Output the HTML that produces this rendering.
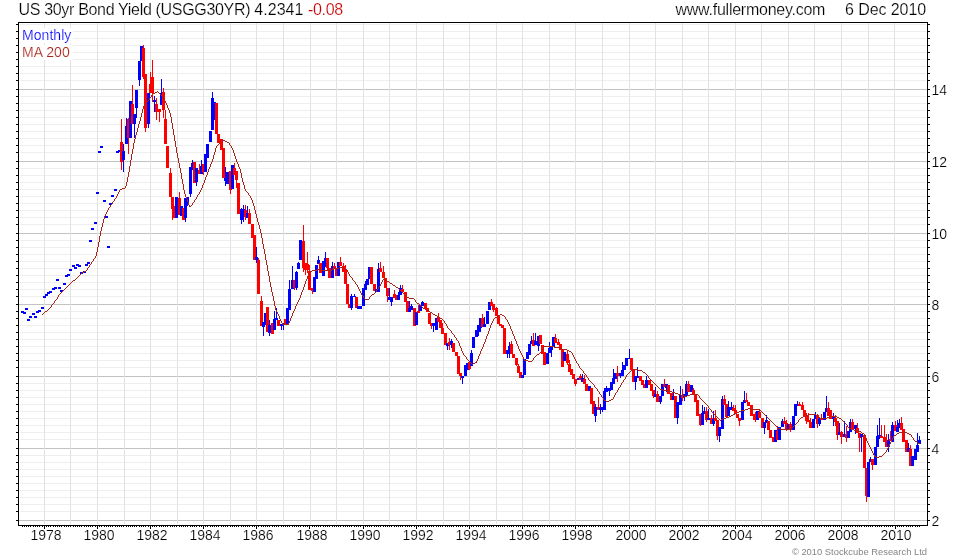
<!DOCTYPE html>
<html><head><meta charset="utf-8"><title>US 30yr Bond Yield</title>
<style>
html,body{margin:0;padding:0;background:#fff}
#c div{-webkit-text-stroke:0.2px #fff}
#c div.cp{-webkit-text-stroke:0px transparent}
#c{position:relative;width:980px;height:560px;overflow:hidden;background:#fff;font-family:"Liberation Sans",Arial,sans-serif;color:#000}
.t{position:absolute;top:-0.5px;font-size:16px;line-height:20px;white-space:nowrap}
.yl{position:absolute;left:931.5px;font-size:14px;line-height:16px;width:30px}
.xl{position:absolute;top:527px;font-size:14px;line-height:16px;width:41px;text-align:center}
.lg{position:absolute;left:19px;width:51px;height:15px;font-size:14px;line-height:15px;background:#fff;padding:0 0 0 3px;white-space:nowrap;overflow:hidden;letter-spacing:0.05px}
.cp{position:absolute;top:545.5px;right:53px;font-size:9.4px;line-height:12px;color:#858585;white-space:nowrap;-webkit-text-stroke:0 !important}
</style></head><body>
<div id="c">
<svg width="980" height="560" viewBox="0 0 980 560" shape-rendering="crispEdges" style="position:absolute;left:0;top:0">
<g fill="#eeeeee">
<rect x="20" y="24" width="906" height="1"/>
<rect x="20" y="31" width="906" height="1"/>
<rect x="20" y="38" width="906" height="1"/>
<rect x="20" y="45" width="906" height="1"/>
<rect x="20" y="52" width="906" height="1"/>
<rect x="20" y="59" width="906" height="1"/>
<rect x="20" y="66" width="906" height="1"/>
<rect x="20" y="73" width="906" height="1"/>
<rect x="20" y="80" width="906" height="1"/>
<rect x="20" y="96" width="906" height="1"/>
<rect x="20" y="103" width="906" height="1"/>
<rect x="20" y="110" width="906" height="1"/>
<rect x="20" y="117" width="906" height="1"/>
<rect x="20" y="124" width="906" height="1"/>
<rect x="20" y="131" width="906" height="1"/>
<rect x="20" y="138" width="906" height="1"/>
<rect x="20" y="145" width="906" height="1"/>
<rect x="20" y="152" width="906" height="1"/>
<rect x="20" y="168" width="906" height="1"/>
<rect x="20" y="175" width="906" height="1"/>
<rect x="20" y="182" width="906" height="1"/>
<rect x="20" y="189" width="906" height="1"/>
<rect x="20" y="196" width="906" height="1"/>
<rect x="20" y="203" width="906" height="1"/>
<rect x="20" y="210" width="906" height="1"/>
<rect x="20" y="217" width="906" height="1"/>
<rect x="20" y="224" width="906" height="1"/>
<rect x="20" y="240" width="906" height="1"/>
<rect x="20" y="247" width="906" height="1"/>
<rect x="20" y="254" width="906" height="1"/>
<rect x="20" y="261" width="906" height="1"/>
<rect x="20" y="268" width="906" height="1"/>
<rect x="20" y="275" width="906" height="1"/>
<rect x="20" y="282" width="906" height="1"/>
<rect x="20" y="289" width="906" height="1"/>
<rect x="20" y="296" width="906" height="1"/>
<rect x="20" y="311" width="906" height="1"/>
<rect x="20" y="318" width="906" height="1"/>
<rect x="20" y="325" width="906" height="1"/>
<rect x="20" y="332" width="906" height="1"/>
<rect x="20" y="339" width="906" height="1"/>
<rect x="20" y="346" width="906" height="1"/>
<rect x="20" y="353" width="906" height="1"/>
<rect x="20" y="360" width="906" height="1"/>
<rect x="20" y="367" width="906" height="1"/>
<rect x="20" y="383" width="906" height="1"/>
<rect x="20" y="390" width="906" height="1"/>
<rect x="20" y="397" width="906" height="1"/>
<rect x="20" y="404" width="906" height="1"/>
<rect x="20" y="411" width="906" height="1"/>
<rect x="20" y="418" width="906" height="1"/>
<rect x="20" y="425" width="906" height="1"/>
<rect x="20" y="432" width="906" height="1"/>
<rect x="20" y="439" width="906" height="1"/>
<rect x="20" y="455" width="906" height="1"/>
<rect x="20" y="462" width="906" height="1"/>
<rect x="20" y="469" width="906" height="1"/>
<rect x="20" y="476" width="906" height="1"/>
<rect x="20" y="483" width="906" height="1"/>
<rect x="20" y="490" width="906" height="1"/>
<rect x="20" y="497" width="906" height="1"/>
<rect x="20" y="504" width="906" height="1"/>
<rect x="20" y="511" width="906" height="1"/>
</g>
<g fill="#c2c2c2">
<rect x="19" y="89" width="908" height="1"/>
<rect x="19" y="161" width="908" height="1"/>
<rect x="19" y="233" width="908" height="1"/>
<rect x="19" y="304" width="908" height="1"/>
<rect x="19" y="376" width="908" height="1"/>
<rect x="19" y="448" width="908" height="1"/>
<rect x="19" y="520" width="908" height="1"/>
</g>
<g fill="#e2e2e2">
<rect x="44" y="23" width="1" height="501"/>
<rect x="70" y="23" width="1" height="501"/>
<rect x="97" y="23" width="1" height="501"/>
<rect x="124" y="23" width="1" height="501"/>
<rect x="150" y="23" width="1" height="501"/>
<rect x="177" y="23" width="1" height="501"/>
<rect x="203" y="23" width="1" height="501"/>
<rect x="230" y="23" width="1" height="501"/>
<rect x="256" y="23" width="1" height="501"/>
<rect x="283" y="23" width="1" height="501"/>
<rect x="310" y="23" width="1" height="501"/>
<rect x="336" y="23" width="1" height="501"/>
<rect x="363" y="23" width="1" height="501"/>
<rect x="389" y="23" width="1" height="501"/>
<rect x="416" y="23" width="1" height="501"/>
<rect x="443" y="23" width="1" height="501"/>
<rect x="469" y="23" width="1" height="501"/>
<rect x="496" y="23" width="1" height="501"/>
<rect x="522" y="23" width="1" height="501"/>
<rect x="549" y="23" width="1" height="501"/>
<rect x="575" y="23" width="1" height="501"/>
<rect x="602" y="23" width="1" height="501"/>
<rect x="629" y="23" width="1" height="501"/>
<rect x="655" y="23" width="1" height="501"/>
<rect x="682" y="23" width="1" height="501"/>
<rect x="708" y="23" width="1" height="501"/>
<rect x="735" y="23" width="1" height="501"/>
<rect x="761" y="23" width="1" height="501"/>
<rect x="788" y="23" width="1" height="501"/>
<rect x="814" y="23" width="1" height="501"/>
<rect x="841" y="23" width="1" height="501"/>
<rect x="868" y="23" width="1" height="501"/>
<rect x="894" y="23" width="1" height="501"/>
</g>
<g>
<rect x="21" y="311" width="3" height="2" fill="#0000ff"/>
<rect x="23" y="312" width="3" height="2" fill="#0000ff"/>
<rect x="25" y="308" width="3" height="2" fill="#0000ff"/>
<rect x="27" y="319" width="3" height="2" fill="#0000ff"/>
<rect x="29" y="316" width="3" height="2" fill="#0000ff"/>
<rect x="32" y="313" width="3" height="2" fill="#0000ff"/>
<rect x="34" y="316" width="3" height="2" fill="#0000ff"/>
<rect x="36" y="311" width="3" height="2" fill="#0000ff"/>
<rect x="38" y="310" width="3" height="2" fill="#0000ff"/>
<rect x="41" y="307" width="3" height="2" fill="#0000ff"/>
<rect x="43" y="296" width="3" height="2" fill="#0000ff"/>
<rect x="45" y="294" width="3" height="2" fill="#0000ff"/>
<rect x="47" y="292" width="3" height="2" fill="#0000ff"/>
<rect x="49" y="291" width="3" height="2" fill="#0000ff"/>
<rect x="52" y="288" width="3" height="2" fill="#0000ff"/>
<rect x="54" y="287" width="3" height="2" fill="#0000ff"/>
<rect x="56" y="279" width="3" height="2" fill="#0000ff"/>
<rect x="58" y="287" width="3" height="2" fill="#0000ff"/>
<rect x="60" y="290" width="3" height="2" fill="#0000ff"/>
<rect x="63" y="283" width="3" height="2" fill="#0000ff"/>
<rect x="65" y="275" width="3" height="2" fill="#0000ff"/>
<rect x="67" y="274" width="3" height="2" fill="#0000ff"/>
<rect x="69" y="269" width="3" height="2" fill="#0000ff"/>
<rect x="72" y="265" width="3" height="2" fill="#0000ff"/>
<rect x="74" y="267" width="3" height="2" fill="#0000ff"/>
<rect x="76" y="264" width="3" height="2" fill="#0000ff"/>
<rect x="78" y="265" width="3" height="2" fill="#0000ff"/>
<rect x="80" y="272" width="3" height="2" fill="#0000ff"/>
<rect x="83" y="271" width="3" height="2" fill="#0000ff"/>
<rect x="85" y="264" width="3" height="2" fill="#0000ff"/>
<rect x="87" y="262" width="3" height="2" fill="#0000ff"/>
<rect x="89" y="240" width="3" height="2" fill="#0000ff"/>
<rect x="91" y="228" width="3" height="2" fill="#0000ff"/>
<rect x="94" y="222" width="3" height="2" fill="#0000ff"/>
<rect x="96" y="192" width="3" height="2" fill="#0000ff"/>
<rect x="98" y="151" width="3" height="2" fill="#0000ff"/>
<rect x="100" y="146" width="3" height="2" fill="#0000ff"/>
<rect x="103" y="200" width="3" height="2" fill="#0000ff"/>
<rect x="105" y="216" width="3" height="2" fill="#0000ff"/>
<rect x="107" y="246" width="3" height="2" fill="#0000ff"/>
<rect x="109" y="203" width="3" height="2" fill="#0000ff"/>
<rect x="111" y="195" width="3" height="2" fill="#0000ff"/>
<rect x="114" y="189" width="3" height="2" fill="#0000ff"/>
<rect x="116" y="151" width="3" height="2" fill="#0000ff"/>
<rect x="118" y="150" width="3" height="2" fill="#0000ff"/>
<rect x="121" y="119" width="1" height="51" fill="#ff0000"/><rect x="120" y="142" width="3" height="20" fill="#ff0000"/>
<rect x="123" y="144" width="1" height="28" fill="#0000ff"/><rect x="122" y="151" width="3" height="9" fill="#0000ff"/>
<rect x="126" y="118" width="1" height="26" fill="#0000ff"/><rect x="125" y="126" width="3" height="18" fill="#0000ff"/>
<rect x="128" y="118" width="1" height="36" fill="#ff0000"/><rect x="127" y="119" width="3" height="19" fill="#ff0000"/>
<rect x="130" y="101" width="1" height="37" fill="#0000ff"/><rect x="129" y="101" width="3" height="37" fill="#0000ff"/>
<rect x="132" y="85" width="1" height="39" fill="#ff0000"/><rect x="131" y="104" width="3" height="20" fill="#ff0000"/>
<rect x="134" y="114" width="1" height="24" fill="#0000ff"/><rect x="133" y="114" width="3" height="10" fill="#0000ff"/>
<rect x="136" y="90" width="1" height="28" fill="#0000ff"/><rect x="135" y="90" width="3" height="18" fill="#0000ff"/>
<rect x="139" y="61" width="1" height="25" fill="#0000ff"/><rect x="138" y="61" width="3" height="19" fill="#0000ff"/>
<rect x="141" y="46" width="1" height="15" fill="#0000ff"/><rect x="140" y="46" width="3" height="15" fill="#0000ff"/>
<rect x="143" y="45" width="1" height="34" fill="#ff0000"/><rect x="142" y="48" width="3" height="29" fill="#ff0000"/>
<rect x="145" y="74" width="1" height="58" fill="#ff0000"/><rect x="144" y="74" width="3" height="54" fill="#ff0000"/>
<rect x="148" y="93" width="1" height="35" fill="#0000ff"/><rect x="147" y="93" width="3" height="31" fill="#0000ff"/>
<rect x="150" y="72" width="1" height="21" fill="#ff0000"/><rect x="149" y="84" width="3" height="9" fill="#ff0000"/>
<rect x="152" y="60" width="1" height="42" fill="#ff0000"/><rect x="151" y="77" width="3" height="16" fill="#ff0000"/>
<rect x="154" y="96" width="1" height="16" fill="#0000ff"/><rect x="153" y="100" width="3" height="2" fill="#0000ff"/>
<rect x="156" y="98" width="1" height="22" fill="#ff0000"/><rect x="155" y="104" width="3" height="8" fill="#ff0000"/>
<rect x="159" y="109" width="1" height="13" fill="#ff0000"/><rect x="158" y="109" width="3" height="3" fill="#ff0000"/>
<rect x="161" y="79" width="1" height="26" fill="#0000ff"/><rect x="160" y="93" width="3" height="12" fill="#0000ff"/>
<rect x="163" y="88" width="1" height="30" fill="#ff0000"/><rect x="162" y="92" width="3" height="18" fill="#ff0000"/>
<rect x="165" y="110" width="1" height="34" fill="#ff0000"/><rect x="164" y="119" width="3" height="25" fill="#ff0000"/>
<rect x="167" y="146" width="1" height="22" fill="#ff0000"/><rect x="166" y="146" width="3" height="22" fill="#ff0000"/>
<rect x="170" y="168" width="1" height="29" fill="#ff0000"/><rect x="169" y="173" width="3" height="24" fill="#ff0000"/>
<rect x="172" y="197" width="1" height="23" fill="#ff0000"/><rect x="171" y="197" width="3" height="12" fill="#ff0000"/>
<rect x="174" y="206" width="1" height="12" fill="#ff0000"/><rect x="173" y="206" width="3" height="12" fill="#ff0000"/>
<rect x="176" y="197" width="1" height="21" fill="#0000ff"/><rect x="175" y="197" width="3" height="21" fill="#0000ff"/>
<rect x="179" y="192" width="1" height="23" fill="#ff0000"/><rect x="178" y="198" width="3" height="17" fill="#ff0000"/>
<rect x="181" y="206" width="1" height="10" fill="#0000ff"/><rect x="180" y="206" width="3" height="10" fill="#0000ff"/>
<rect x="183" y="208" width="1" height="12" fill="#ff0000"/><rect x="182" y="208" width="3" height="12" fill="#ff0000"/>
<rect x="185" y="198" width="1" height="24" fill="#0000ff"/><rect x="184" y="198" width="3" height="20" fill="#0000ff"/>
<rect x="187" y="197" width="1" height="9" fill="#0000ff"/><rect x="186" y="197" width="3" height="5" fill="#0000ff"/>
<rect x="190" y="167" width="1" height="30" fill="#0000ff"/><rect x="189" y="167" width="3" height="27" fill="#0000ff"/>
<rect x="192" y="160" width="1" height="10" fill="#0000ff"/><rect x="191" y="163" width="3" height="7" fill="#0000ff"/>
<rect x="194" y="162" width="1" height="21" fill="#ff0000"/><rect x="193" y="162" width="3" height="21" fill="#ff0000"/>
<rect x="196" y="168" width="1" height="18" fill="#0000ff"/><rect x="195" y="168" width="3" height="14" fill="#0000ff"/>
<rect x="199" y="164" width="1" height="10" fill="#ff0000"/><rect x="198" y="170" width="3" height="4" fill="#ff0000"/>
<rect x="201" y="160" width="1" height="14" fill="#0000ff"/><rect x="200" y="166" width="3" height="8" fill="#0000ff"/>
<rect x="203" y="164" width="1" height="11" fill="#ff0000"/><rect x="202" y="164" width="3" height="8" fill="#ff0000"/>
<rect x="205" y="154" width="1" height="18" fill="#0000ff"/><rect x="204" y="154" width="3" height="18" fill="#0000ff"/>
<rect x="207" y="144" width="1" height="14" fill="#0000ff"/><rect x="206" y="144" width="3" height="14" fill="#0000ff"/>
<rect x="210" y="131" width="1" height="11" fill="#0000ff"/><rect x="209" y="131" width="3" height="11" fill="#0000ff"/>
<rect x="212" y="92" width="1" height="38" fill="#0000ff"/><rect x="211" y="98" width="3" height="32" fill="#0000ff"/>
<rect x="214" y="102" width="1" height="18" fill="#0000ff"/><rect x="213" y="102" width="3" height="18" fill="#0000ff"/>
<rect x="216" y="103" width="1" height="31" fill="#ff0000"/><rect x="215" y="103" width="3" height="31" fill="#ff0000"/>
<rect x="218" y="134" width="1" height="9" fill="#ff0000"/><rect x="217" y="134" width="3" height="9" fill="#ff0000"/>
<rect x="221" y="139" width="1" height="11" fill="#ff0000"/><rect x="220" y="139" width="3" height="11" fill="#ff0000"/>
<rect x="223" y="148" width="1" height="30" fill="#ff0000"/><rect x="222" y="148" width="3" height="30" fill="#ff0000"/>
<rect x="225" y="167" width="1" height="19" fill="#0000ff"/><rect x="224" y="178" width="3" height="3" fill="#0000ff"/>
<rect x="227" y="172" width="1" height="12" fill="#0000ff"/><rect x="226" y="172" width="3" height="12" fill="#0000ff"/>
<rect x="230" y="171" width="1" height="23" fill="#ff0000"/><rect x="229" y="171" width="3" height="19" fill="#ff0000"/>
<rect x="232" y="165" width="1" height="24" fill="#0000ff"/><rect x="231" y="165" width="3" height="24" fill="#0000ff"/>
<rect x="234" y="163" width="1" height="12" fill="#ff0000"/><rect x="233" y="168" width="3" height="7" fill="#ff0000"/>
<rect x="236" y="171" width="1" height="17" fill="#ff0000"/><rect x="235" y="171" width="3" height="9" fill="#ff0000"/>
<rect x="238" y="183" width="1" height="31" fill="#ff0000"/><rect x="237" y="183" width="3" height="31" fill="#ff0000"/>
<rect x="241" y="208" width="1" height="16" fill="#0000ff"/><rect x="240" y="209" width="3" height="11" fill="#0000ff"/>
<rect x="243" y="205" width="1" height="17" fill="#0000ff"/><rect x="242" y="209" width="3" height="8" fill="#0000ff"/>
<rect x="245" y="205" width="1" height="15" fill="#ff0000"/><rect x="244" y="210" width="3" height="7" fill="#ff0000"/>
<rect x="247" y="206" width="1" height="12" fill="#0000ff"/><rect x="246" y="213" width="3" height="5" fill="#0000ff"/>
<rect x="249" y="209" width="1" height="15" fill="#ff0000"/><rect x="248" y="213" width="3" height="11" fill="#ff0000"/>
<rect x="252" y="224" width="1" height="14" fill="#ff0000"/><rect x="251" y="224" width="3" height="14" fill="#ff0000"/>
<rect x="254" y="235" width="1" height="25" fill="#ff0000"/><rect x="253" y="235" width="3" height="25" fill="#ff0000"/>
<rect x="256" y="247" width="1" height="16" fill="#0000ff"/><rect x="255" y="257" width="3" height="3" fill="#0000ff"/>
<rect x="258" y="258" width="1" height="36" fill="#ff0000"/><rect x="257" y="260" width="3" height="34" fill="#ff0000"/>
<rect x="261" y="296" width="1" height="30" fill="#ff0000"/><rect x="260" y="301" width="3" height="25" fill="#ff0000"/>
<rect x="263" y="322" width="1" height="14" fill="#0000ff"/><rect x="262" y="322" width="3" height="5" fill="#0000ff"/>
<rect x="265" y="313" width="1" height="12" fill="#0000ff"/><rect x="264" y="313" width="3" height="12" fill="#0000ff"/>
<rect x="267" y="307" width="1" height="25" fill="#ff0000"/><rect x="266" y="307" width="3" height="25" fill="#ff0000"/>
<rect x="269" y="320" width="1" height="16" fill="#0000ff"/><rect x="268" y="325" width="3" height="8" fill="#0000ff"/>
<rect x="272" y="323" width="1" height="11" fill="#ff0000"/><rect x="271" y="323" width="3" height="11" fill="#ff0000"/>
<rect x="274" y="311" width="1" height="19" fill="#0000ff"/><rect x="273" y="319" width="3" height="11" fill="#0000ff"/>
<rect x="276" y="308" width="1" height="12" fill="#0000ff"/><rect x="275" y="318" width="3" height="2" fill="#0000ff"/>
<rect x="278" y="320" width="1" height="6" fill="#ff0000"/><rect x="277" y="320" width="3" height="6" fill="#ff0000"/>
<rect x="281" y="324" width="1" height="6" fill="#0000ff"/><rect x="280" y="324" width="3" height="2" fill="#0000ff"/>
<rect x="283" y="323" width="1" height="7" fill="#0000ff"/><rect x="282" y="323" width="3" height="2" fill="#0000ff"/>
<rect x="285" y="319" width="1" height="5" fill="#ff0000"/><rect x="284" y="319" width="3" height="5" fill="#ff0000"/>
<rect x="287" y="308" width="1" height="16" fill="#0000ff"/><rect x="286" y="308" width="3" height="16" fill="#0000ff"/>
<rect x="289" y="280" width="1" height="30" fill="#0000ff"/><rect x="288" y="289" width="3" height="21" fill="#0000ff"/>
<rect x="292" y="266" width="1" height="23" fill="#0000ff"/><rect x="291" y="280" width="3" height="9" fill="#0000ff"/>
<rect x="294" y="280" width="1" height="10" fill="#ff0000"/><rect x="293" y="280" width="3" height="8" fill="#ff0000"/>
<rect x="296" y="271" width="1" height="19" fill="#0000ff"/><rect x="295" y="272" width="3" height="16" fill="#0000ff"/>
<rect x="298" y="262" width="1" height="7" fill="#0000ff"/><rect x="297" y="263" width="3" height="6" fill="#0000ff"/>
<rect x="300" y="240" width="1" height="20" fill="#0000ff"/><rect x="299" y="240" width="3" height="20" fill="#0000ff"/>
<rect x="303" y="225" width="1" height="47" fill="#ff0000"/><rect x="302" y="241" width="3" height="27" fill="#ff0000"/>
<rect x="305" y="263" width="1" height="12" fill="#ff0000"/><rect x="304" y="263" width="3" height="7" fill="#ff0000"/>
<rect x="307" y="252" width="1" height="21" fill="#ff0000"/><rect x="306" y="264" width="3" height="6" fill="#ff0000"/>
<rect x="309" y="265" width="1" height="25" fill="#ff0000"/><rect x="308" y="271" width="3" height="19" fill="#ff0000"/>
<rect x="312" y="288" width="1" height="6" fill="#ff0000"/><rect x="311" y="288" width="3" height="3" fill="#ff0000"/>
<rect x="314" y="277" width="1" height="15" fill="#0000ff"/><rect x="313" y="277" width="3" height="15" fill="#0000ff"/>
<rect x="316" y="265" width="1" height="14" fill="#0000ff"/><rect x="315" y="265" width="3" height="14" fill="#0000ff"/>
<rect x="318" y="256" width="1" height="8" fill="#0000ff"/><rect x="317" y="260" width="3" height="4" fill="#0000ff"/>
<rect x="320" y="263" width="1" height="10" fill="#ff0000"/><rect x="319" y="263" width="3" height="10" fill="#ff0000"/>
<rect x="323" y="261" width="1" height="15" fill="#0000ff"/><rect x="322" y="261" width="3" height="15" fill="#0000ff"/>
<rect x="325" y="252" width="1" height="15" fill="#0000ff"/><rect x="324" y="258" width="3" height="9" fill="#0000ff"/>
<rect x="327" y="258" width="1" height="12" fill="#ff0000"/><rect x="326" y="258" width="3" height="10" fill="#ff0000"/>
<rect x="329" y="268" width="1" height="10" fill="#ff0000"/><rect x="328" y="268" width="3" height="10" fill="#ff0000"/>
<rect x="332" y="262" width="1" height="16" fill="#0000ff"/><rect x="331" y="266" width="3" height="12" fill="#0000ff"/>
<rect x="334" y="263" width="1" height="6" fill="#ff0000"/><rect x="333" y="266" width="3" height="3" fill="#ff0000"/>
<rect x="336" y="268" width="1" height="8" fill="#ff0000"/><rect x="335" y="268" width="3" height="8" fill="#ff0000"/>
<rect x="338" y="262" width="1" height="14" fill="#0000ff"/><rect x="337" y="262" width="3" height="14" fill="#0000ff"/>
<rect x="340" y="257" width="1" height="9" fill="#ff0000"/><rect x="339" y="262" width="3" height="4" fill="#ff0000"/>
<rect x="343" y="263" width="1" height="9" fill="#ff0000"/><rect x="342" y="266" width="3" height="6" fill="#ff0000"/>
<rect x="345" y="265" width="1" height="19" fill="#ff0000"/><rect x="344" y="269" width="3" height="15" fill="#ff0000"/>
<rect x="347" y="284" width="1" height="20" fill="#ff0000"/><rect x="346" y="284" width="3" height="20" fill="#ff0000"/>
<rect x="349" y="304" width="1" height="4" fill="#ff0000"/><rect x="348" y="304" width="3" height="4" fill="#ff0000"/>
<rect x="351" y="294" width="1" height="16" fill="#0000ff"/><rect x="350" y="296" width="3" height="12" fill="#0000ff"/>
<rect x="354" y="294" width="1" height="3" fill="#0000ff"/><rect x="353" y="296" width="3" height="1" fill="#0000ff"/>
<rect x="356" y="297" width="1" height="11" fill="#ff0000"/><rect x="355" y="297" width="3" height="11" fill="#ff0000"/>
<rect x="358" y="306" width="1" height="3" fill="#0000ff"/><rect x="357" y="306" width="3" height="3" fill="#0000ff"/>
<rect x="360" y="306" width="1" height="3" fill="#0000ff"/><rect x="359" y="306" width="3" height="3" fill="#0000ff"/>
<rect x="363" y="288" width="1" height="18" fill="#0000ff"/><rect x="362" y="288" width="3" height="18" fill="#0000ff"/>
<rect x="365" y="281" width="1" height="9" fill="#0000ff"/><rect x="364" y="284" width="3" height="6" fill="#0000ff"/>
<rect x="367" y="279" width="1" height="6" fill="#0000ff"/><rect x="366" y="279" width="3" height="6" fill="#0000ff"/>
<rect x="369" y="267" width="1" height="12" fill="#0000ff"/><rect x="368" y="267" width="3" height="12" fill="#0000ff"/>
<rect x="371" y="267" width="1" height="17" fill="#ff0000"/><rect x="370" y="267" width="3" height="17" fill="#ff0000"/>
<rect x="374" y="284" width="1" height="7" fill="#ff0000"/><rect x="373" y="284" width="3" height="7" fill="#ff0000"/>
<rect x="376" y="289" width="1" height="3" fill="#0000ff"/><rect x="375" y="289" width="3" height="3" fill="#0000ff"/>
<rect x="378" y="263" width="1" height="29" fill="#0000ff"/><rect x="377" y="269" width="3" height="23" fill="#0000ff"/>
<rect x="380" y="262" width="1" height="10" fill="#ff0000"/><rect x="379" y="268" width="3" height="4" fill="#ff0000"/>
<rect x="383" y="266" width="1" height="12" fill="#ff0000"/><rect x="382" y="272" width="3" height="6" fill="#ff0000"/>
<rect x="385" y="278" width="1" height="10" fill="#ff0000"/><rect x="384" y="278" width="3" height="10" fill="#ff0000"/>
<rect x="387" y="288" width="1" height="14" fill="#ff0000"/><rect x="386" y="288" width="3" height="8" fill="#ff0000"/>
<rect x="389" y="288" width="1" height="12" fill="#0000ff"/><rect x="388" y="297" width="3" height="3" fill="#0000ff"/>
<rect x="391" y="297" width="1" height="9" fill="#0000ff"/><rect x="390" y="297" width="3" height="5" fill="#0000ff"/>
<rect x="394" y="290" width="1" height="8" fill="#ff0000"/><rect x="393" y="294" width="3" height="4" fill="#ff0000"/>
<rect x="396" y="295" width="1" height="5" fill="#ff0000"/><rect x="395" y="295" width="3" height="5" fill="#ff0000"/>
<rect x="398" y="292" width="1" height="8" fill="#0000ff"/><rect x="397" y="295" width="3" height="5" fill="#0000ff"/>
<rect x="400" y="285" width="1" height="10" fill="#0000ff"/><rect x="399" y="288" width="3" height="7" fill="#0000ff"/>
<rect x="402" y="285" width="1" height="7" fill="#ff0000"/><rect x="401" y="289" width="3" height="3" fill="#ff0000"/>
<rect x="405" y="292" width="1" height="10" fill="#ff0000"/><rect x="404" y="292" width="3" height="10" fill="#ff0000"/>
<rect x="407" y="301" width="1" height="11" fill="#ff0000"/><rect x="406" y="301" width="3" height="11" fill="#ff0000"/>
<rect x="409" y="301" width="1" height="11" fill="#0000ff"/><rect x="408" y="308" width="3" height="4" fill="#0000ff"/>
<rect x="411" y="304" width="1" height="6" fill="#0000ff"/><rect x="410" y="306" width="3" height="4" fill="#0000ff"/>
<rect x="414" y="308" width="1" height="18" fill="#ff0000"/><rect x="413" y="308" width="3" height="18" fill="#ff0000"/>
<rect x="416" y="312" width="1" height="13" fill="#0000ff"/><rect x="415" y="312" width="3" height="13" fill="#0000ff"/>
<rect x="418" y="305" width="1" height="8" fill="#ff0000"/><rect x="417" y="311" width="3" height="2" fill="#ff0000"/>
<rect x="420" y="305" width="1" height="6" fill="#0000ff"/><rect x="419" y="305" width="3" height="6" fill="#0000ff"/>
<rect x="422" y="301" width="1" height="5" fill="#0000ff"/><rect x="421" y="302" width="3" height="4" fill="#0000ff"/>
<rect x="425" y="303" width="1" height="6" fill="#ff0000"/><rect x="424" y="303" width="3" height="6" fill="#ff0000"/>
<rect x="427" y="308" width="1" height="4" fill="#ff0000"/><rect x="426" y="308" width="3" height="4" fill="#ff0000"/>
<rect x="429" y="313" width="1" height="11" fill="#ff0000"/><rect x="428" y="313" width="3" height="11" fill="#ff0000"/>
<rect x="431" y="323" width="1" height="6" fill="#ff0000"/><rect x="430" y="323" width="3" height="3" fill="#ff0000"/>
<rect x="433" y="323" width="1" height="9" fill="#0000ff"/><rect x="432" y="323" width="3" height="3" fill="#0000ff"/>
<rect x="436" y="318" width="1" height="12" fill="#0000ff"/><rect x="435" y="318" width="3" height="12" fill="#0000ff"/>
<rect x="438" y="313" width="1" height="9" fill="#ff0000"/><rect x="437" y="317" width="3" height="5" fill="#ff0000"/>
<rect x="440" y="320" width="1" height="8" fill="#ff0000"/><rect x="439" y="320" width="3" height="8" fill="#ff0000"/>
<rect x="442" y="323" width="1" height="11" fill="#ff0000"/><rect x="441" y="328" width="3" height="6" fill="#ff0000"/>
<rect x="445" y="333" width="1" height="12" fill="#ff0000"/><rect x="444" y="333" width="3" height="12" fill="#ff0000"/>
<rect x="447" y="343" width="1" height="7" fill="#0000ff"/><rect x="446" y="343" width="3" height="3" fill="#0000ff"/>
<rect x="449" y="338" width="1" height="12" fill="#ff0000"/><rect x="448" y="342" width="3" height="3" fill="#ff0000"/>
<rect x="451" y="339" width="1" height="9" fill="#0000ff"/><rect x="450" y="341" width="3" height="4" fill="#0000ff"/>
<rect x="453" y="343" width="1" height="9" fill="#ff0000"/><rect x="452" y="343" width="3" height="9" fill="#ff0000"/>
<rect x="456" y="352" width="1" height="4" fill="#ff0000"/><rect x="455" y="352" width="3" height="4" fill="#ff0000"/>
<rect x="458" y="356" width="1" height="18" fill="#ff0000"/><rect x="457" y="356" width="3" height="18" fill="#ff0000"/>
<rect x="460" y="373" width="1" height="7" fill="#ff0000"/><rect x="459" y="373" width="3" height="3" fill="#ff0000"/>
<rect x="462" y="376" width="1" height="8" fill="#0000ff"/><rect x="461" y="376" width="3" height="2" fill="#0000ff"/>
<rect x="465" y="365" width="1" height="11" fill="#0000ff"/><rect x="464" y="365" width="3" height="11" fill="#0000ff"/>
<rect x="467" y="363" width="1" height="7" fill="#0000ff"/><rect x="466" y="363" width="3" height="7" fill="#0000ff"/>
<rect x="469" y="361" width="1" height="9" fill="#ff0000"/><rect x="468" y="362" width="3" height="7" fill="#ff0000"/>
<rect x="471" y="350" width="1" height="16" fill="#0000ff"/><rect x="470" y="353" width="3" height="13" fill="#0000ff"/>
<rect x="473" y="337" width="1" height="11" fill="#0000ff"/><rect x="472" y="337" width="3" height="11" fill="#0000ff"/>
<rect x="476" y="330" width="1" height="7" fill="#0000ff"/><rect x="475" y="330" width="3" height="7" fill="#0000ff"/>
<rect x="478" y="325" width="1" height="11" fill="#0000ff"/><rect x="477" y="325" width="3" height="7" fill="#0000ff"/>
<rect x="480" y="318" width="1" height="14" fill="#0000ff"/><rect x="479" y="318" width="3" height="10" fill="#0000ff"/>
<rect x="482" y="314" width="1" height="13" fill="#ff0000"/><rect x="481" y="318" width="3" height="9" fill="#ff0000"/>
<rect x="484" y="317" width="1" height="10" fill="#0000ff"/><rect x="483" y="324" width="3" height="3" fill="#0000ff"/>
<rect x="487" y="311" width="1" height="13" fill="#0000ff"/><rect x="486" y="311" width="3" height="13" fill="#0000ff"/>
<rect x="489" y="302" width="1" height="8" fill="#0000ff"/><rect x="488" y="302" width="3" height="8" fill="#0000ff"/>
<rect x="491" y="299" width="1" height="7" fill="#ff0000"/><rect x="490" y="302" width="3" height="4" fill="#ff0000"/>
<rect x="493" y="304" width="1" height="8" fill="#ff0000"/><rect x="492" y="304" width="3" height="6" fill="#ff0000"/>
<rect x="496" y="307" width="1" height="9" fill="#ff0000"/><rect x="495" y="308" width="3" height="8" fill="#ff0000"/>
<rect x="498" y="315" width="1" height="9" fill="#ff0000"/><rect x="497" y="315" width="3" height="9" fill="#ff0000"/>
<rect x="500" y="324" width="1" height="2" fill="#ff0000"/><rect x="499" y="324" width="3" height="2" fill="#ff0000"/>
<rect x="502" y="325" width="1" height="3" fill="#ff0000"/><rect x="501" y="325" width="3" height="3" fill="#ff0000"/>
<rect x="504" y="328" width="1" height="26" fill="#ff0000"/><rect x="503" y="328" width="3" height="26" fill="#ff0000"/>
<rect x="507" y="350" width="1" height="8" fill="#0000ff"/><rect x="506" y="350" width="3" height="4" fill="#0000ff"/>
<rect x="509" y="342" width="1" height="16" fill="#0000ff"/><rect x="508" y="346" width="3" height="8" fill="#0000ff"/>
<rect x="511" y="341" width="1" height="13" fill="#ff0000"/><rect x="510" y="344" width="3" height="10" fill="#ff0000"/>
<rect x="513" y="354" width="1" height="4" fill="#ff0000"/><rect x="512" y="354" width="3" height="4" fill="#ff0000"/>
<rect x="516" y="358" width="1" height="8" fill="#ff0000"/><rect x="515" y="358" width="3" height="7" fill="#ff0000"/>
<rect x="518" y="364" width="1" height="9" fill="#ff0000"/><rect x="517" y="366" width="3" height="7" fill="#ff0000"/>
<rect x="520" y="372" width="1" height="6" fill="#ff0000"/><rect x="519" y="372" width="3" height="6" fill="#ff0000"/>
<rect x="522" y="375" width="1" height="3" fill="#0000ff"/><rect x="521" y="375" width="3" height="3" fill="#0000ff"/>
<rect x="524" y="359" width="1" height="16" fill="#0000ff"/><rect x="523" y="359" width="3" height="16" fill="#0000ff"/>
<rect x="527" y="352" width="1" height="7" fill="#0000ff"/><rect x="526" y="352" width="3" height="7" fill="#0000ff"/>
<rect x="529" y="344" width="1" height="11" fill="#0000ff"/><rect x="528" y="344" width="3" height="11" fill="#0000ff"/>
<rect x="531" y="336" width="1" height="8" fill="#0000ff"/><rect x="530" y="341" width="3" height="3" fill="#0000ff"/>
<rect x="533" y="333" width="1" height="13" fill="#ff0000"/><rect x="532" y="340" width="3" height="6" fill="#ff0000"/>
<rect x="535" y="333" width="1" height="12" fill="#0000ff"/><rect x="534" y="341" width="3" height="4" fill="#0000ff"/>
<rect x="538" y="336" width="1" height="15" fill="#0000ff"/><rect x="537" y="336" width="3" height="10" fill="#0000ff"/>
<rect x="540" y="335" width="1" height="9" fill="#ff0000"/><rect x="539" y="335" width="3" height="9" fill="#ff0000"/>
<rect x="542" y="345" width="1" height="9" fill="#ff0000"/><rect x="541" y="345" width="3" height="9" fill="#ff0000"/>
<rect x="544" y="352" width="1" height="13" fill="#ff0000"/><rect x="543" y="352" width="3" height="13" fill="#ff0000"/>
<rect x="547" y="353" width="1" height="11" fill="#0000ff"/><rect x="546" y="353" width="3" height="11" fill="#0000ff"/>
<rect x="549" y="342" width="1" height="11" fill="#0000ff"/><rect x="548" y="348" width="3" height="5" fill="#0000ff"/>
<rect x="551" y="347" width="1" height="10" fill="#0000ff"/><rect x="550" y="347" width="3" height="3" fill="#0000ff"/>
<rect x="553" y="337" width="1" height="10" fill="#0000ff"/><rect x="552" y="337" width="3" height="10" fill="#0000ff"/>
<rect x="555" y="334" width="1" height="9" fill="#ff0000"/><rect x="554" y="338" width="3" height="5" fill="#ff0000"/>
<rect x="558" y="339" width="1" height="6" fill="#ff0000"/><rect x="557" y="342" width="3" height="3" fill="#ff0000"/>
<rect x="560" y="344" width="1" height="6" fill="#ff0000"/><rect x="559" y="344" width="3" height="6" fill="#ff0000"/>
<rect x="562" y="349" width="1" height="18" fill="#ff0000"/><rect x="561" y="349" width="3" height="18" fill="#ff0000"/>
<rect x="564" y="352" width="1" height="9" fill="#0000ff"/><rect x="563" y="352" width="3" height="9" fill="#0000ff"/>
<rect x="567" y="351" width="1" height="14" fill="#ff0000"/><rect x="566" y="354" width="3" height="9" fill="#ff0000"/>
<rect x="569" y="360" width="1" height="12" fill="#ff0000"/><rect x="568" y="364" width="3" height="8" fill="#ff0000"/>
<rect x="571" y="369" width="1" height="6" fill="#ff0000"/><rect x="570" y="369" width="3" height="6" fill="#ff0000"/>
<rect x="573" y="374" width="1" height="5" fill="#ff0000"/><rect x="572" y="374" width="3" height="5" fill="#ff0000"/>
<rect x="575" y="379" width="1" height="7" fill="#ff0000"/><rect x="574" y="379" width="3" height="5" fill="#ff0000"/>
<rect x="578" y="378" width="1" height="2" fill="#0000ff"/><rect x="577" y="378" width="3" height="2" fill="#0000ff"/>
<rect x="580" y="374" width="1" height="6" fill="#ff0000"/><rect x="579" y="376" width="3" height="4" fill="#ff0000"/>
<rect x="582" y="374" width="1" height="8" fill="#0000ff"/><rect x="581" y="378" width="3" height="4" fill="#0000ff"/>
<rect x="584" y="375" width="1" height="9" fill="#ff0000"/><rect x="583" y="379" width="3" height="5" fill="#ff0000"/>
<rect x="586" y="384" width="1" height="7" fill="#ff0000"/><rect x="585" y="384" width="3" height="7" fill="#ff0000"/>
<rect x="589" y="386" width="1" height="5" fill="#0000ff"/><rect x="588" y="386" width="3" height="5" fill="#0000ff"/>
<rect x="591" y="388" width="1" height="16" fill="#ff0000"/><rect x="590" y="388" width="3" height="16" fill="#ff0000"/>
<rect x="593" y="401" width="1" height="13" fill="#ff0000"/><rect x="592" y="401" width="3" height="13" fill="#ff0000"/>
<rect x="595" y="404" width="1" height="18" fill="#0000ff"/><rect x="594" y="407" width="3" height="9" fill="#0000ff"/>
<rect x="598" y="397" width="1" height="13" fill="#ff0000"/><rect x="597" y="407" width="3" height="3" fill="#ff0000"/>
<rect x="600" y="404" width="1" height="10" fill="#0000ff"/><rect x="599" y="408" width="3" height="2" fill="#0000ff"/>
<rect x="602" y="407" width="1" height="5" fill="#0000ff"/><rect x="601" y="407" width="3" height="3" fill="#0000ff"/>
<rect x="604" y="388" width="1" height="22" fill="#0000ff"/><rect x="603" y="391" width="3" height="19" fill="#0000ff"/>
<rect x="606" y="386" width="1" height="6" fill="#0000ff"/><rect x="605" y="388" width="3" height="4" fill="#0000ff"/>
<rect x="609" y="388" width="1" height="8" fill="#0000ff"/><rect x="608" y="388" width="3" height="3" fill="#0000ff"/>
<rect x="611" y="382" width="1" height="8" fill="#0000ff"/><rect x="610" y="382" width="3" height="8" fill="#0000ff"/>
<rect x="613" y="369" width="1" height="15" fill="#0000ff"/><rect x="612" y="378" width="3" height="6" fill="#0000ff"/>
<rect x="615" y="373" width="1" height="6" fill="#0000ff"/><rect x="614" y="373" width="3" height="6" fill="#0000ff"/>
<rect x="617" y="366" width="1" height="16" fill="#ff0000"/><rect x="616" y="373" width="3" height="3" fill="#ff0000"/>
<rect x="620" y="373" width="1" height="5" fill="#0000ff"/><rect x="619" y="373" width="3" height="3" fill="#0000ff"/>
<rect x="622" y="362" width="1" height="14" fill="#0000ff"/><rect x="621" y="370" width="3" height="6" fill="#0000ff"/>
<rect x="624" y="365" width="1" height="5" fill="#0000ff"/><rect x="623" y="365" width="3" height="5" fill="#0000ff"/>
<rect x="626" y="358" width="1" height="8" fill="#0000ff"/><rect x="625" y="358" width="3" height="8" fill="#0000ff"/>
<rect x="629" y="349" width="1" height="10" fill="#0000ff"/><rect x="628" y="358" width="3" height="1" fill="#0000ff"/>
<rect x="631" y="358" width="1" height="12" fill="#ff0000"/><rect x="630" y="358" width="3" height="12" fill="#ff0000"/>
<rect x="633" y="370" width="1" height="12" fill="#ff0000"/><rect x="632" y="370" width="3" height="12" fill="#ff0000"/>
<rect x="635" y="376" width="1" height="14" fill="#0000ff"/><rect x="634" y="376" width="3" height="6" fill="#0000ff"/>
<rect x="637" y="367" width="1" height="11" fill="#0000ff"/><rect x="636" y="376" width="3" height="2" fill="#0000ff"/>
<rect x="640" y="376" width="1" height="5" fill="#ff0000"/><rect x="639" y="376" width="3" height="5" fill="#ff0000"/>
<rect x="642" y="380" width="1" height="5" fill="#ff0000"/><rect x="641" y="380" width="3" height="5" fill="#ff0000"/>
<rect x="644" y="384" width="1" height="4" fill="#ff0000"/><rect x="643" y="384" width="3" height="4" fill="#ff0000"/>
<rect x="646" y="376" width="1" height="12" fill="#0000ff"/><rect x="645" y="380" width="3" height="8" fill="#0000ff"/>
<rect x="649" y="380" width="1" height="5" fill="#ff0000"/><rect x="648" y="380" width="3" height="5" fill="#ff0000"/>
<rect x="651" y="384" width="1" height="7" fill="#ff0000"/><rect x="650" y="384" width="3" height="7" fill="#ff0000"/>
<rect x="653" y="390" width="1" height="8" fill="#ff0000"/><rect x="652" y="390" width="3" height="6" fill="#ff0000"/>
<rect x="655" y="387" width="1" height="10" fill="#0000ff"/><rect x="654" y="394" width="3" height="3" fill="#0000ff"/>
<rect x="657" y="391" width="1" height="11" fill="#ff0000"/><rect x="656" y="394" width="3" height="8" fill="#ff0000"/>
<rect x="660" y="396" width="1" height="8" fill="#0000ff"/><rect x="659" y="396" width="3" height="6" fill="#0000ff"/>
<rect x="662" y="384" width="1" height="12" fill="#0000ff"/><rect x="661" y="384" width="3" height="12" fill="#0000ff"/>
<rect x="664" y="379" width="1" height="8" fill="#ff0000"/><rect x="663" y="384" width="3" height="3" fill="#ff0000"/>
<rect x="666" y="384" width="1" height="8" fill="#0000ff"/><rect x="665" y="384" width="3" height="4" fill="#0000ff"/>
<rect x="668" y="385" width="1" height="9" fill="#ff0000"/><rect x="667" y="385" width="3" height="9" fill="#ff0000"/>
<rect x="671" y="393" width="1" height="7" fill="#ff0000"/><rect x="670" y="393" width="3" height="7" fill="#ff0000"/>
<rect x="673" y="389" width="1" height="11" fill="#0000ff"/><rect x="672" y="396" width="3" height="4" fill="#0000ff"/>
<rect x="675" y="396" width="1" height="22" fill="#ff0000"/><rect x="674" y="396" width="3" height="22" fill="#ff0000"/>
<rect x="677" y="402" width="1" height="22" fill="#0000ff"/><rect x="676" y="402" width="3" height="16" fill="#0000ff"/>
<rect x="680" y="386" width="1" height="19" fill="#0000ff"/><rect x="679" y="395" width="3" height="10" fill="#0000ff"/>
<rect x="682" y="389" width="1" height="12" fill="#ff0000"/><rect x="681" y="395" width="3" height="3" fill="#ff0000"/>
<rect x="684" y="394" width="1" height="7" fill="#0000ff"/><rect x="683" y="394" width="3" height="3" fill="#0000ff"/>
<rect x="686" y="381" width="1" height="15" fill="#0000ff"/><rect x="685" y="384" width="3" height="12" fill="#0000ff"/>
<rect x="688" y="381" width="1" height="11" fill="#ff0000"/><rect x="687" y="384" width="3" height="8" fill="#ff0000"/>
<rect x="691" y="385" width="1" height="7" fill="#0000ff"/><rect x="690" y="385" width="3" height="7" fill="#0000ff"/>
<rect x="693" y="388" width="1" height="7" fill="#ff0000"/><rect x="692" y="390" width="3" height="5" fill="#ff0000"/>
<rect x="695" y="394" width="1" height="8" fill="#ff0000"/><rect x="694" y="394" width="3" height="8" fill="#ff0000"/>
<rect x="697" y="400" width="1" height="16" fill="#ff0000"/><rect x="696" y="400" width="3" height="16" fill="#ff0000"/>
<rect x="700" y="414" width="1" height="12" fill="#ff0000"/><rect x="699" y="414" width="3" height="11" fill="#ff0000"/>
<rect x="702" y="405" width="1" height="20" fill="#0000ff"/><rect x="701" y="413" width="3" height="12" fill="#0000ff"/>
<rect x="704" y="407" width="1" height="7" fill="#0000ff"/><rect x="703" y="411" width="3" height="3" fill="#0000ff"/>
<rect x="706" y="407" width="1" height="15" fill="#ff0000"/><rect x="705" y="411" width="3" height="9" fill="#ff0000"/>
<rect x="708" y="409" width="1" height="11" fill="#0000ff"/><rect x="707" y="418" width="3" height="2" fill="#0000ff"/>
<rect x="711" y="415" width="1" height="9" fill="#ff0000"/><rect x="710" y="418" width="3" height="6" fill="#ff0000"/>
<rect x="713" y="411" width="1" height="15" fill="#0000ff"/><rect x="712" y="419" width="3" height="5" fill="#0000ff"/>
<rect x="715" y="410" width="1" height="11" fill="#ff0000"/><rect x="714" y="418" width="3" height="3" fill="#ff0000"/>
<rect x="717" y="420" width="1" height="20" fill="#ff0000"/><rect x="716" y="420" width="3" height="16" fill="#ff0000"/>
<rect x="719" y="427" width="1" height="15" fill="#0000ff"/><rect x="718" y="427" width="3" height="9" fill="#0000ff"/>
<rect x="722" y="396" width="1" height="33" fill="#0000ff"/><rect x="721" y="399" width="3" height="30" fill="#0000ff"/>
<rect x="724" y="395" width="1" height="10" fill="#ff0000"/><rect x="723" y="399" width="3" height="6" fill="#ff0000"/>
<rect x="726" y="404" width="1" height="13" fill="#ff0000"/><rect x="725" y="404" width="3" height="13" fill="#ff0000"/>
<rect x="728" y="401" width="1" height="15" fill="#0000ff"/><rect x="727" y="407" width="3" height="9" fill="#0000ff"/>
<rect x="731" y="402" width="1" height="8" fill="#0000ff"/><rect x="730" y="407" width="3" height="3" fill="#0000ff"/>
<rect x="733" y="405" width="1" height="6" fill="#ff0000"/><rect x="732" y="408" width="3" height="3" fill="#ff0000"/>
<rect x="735" y="405" width="1" height="9" fill="#ff0000"/><rect x="734" y="410" width="3" height="4" fill="#ff0000"/>
<rect x="737" y="414" width="1" height="4" fill="#ff0000"/><rect x="736" y="414" width="3" height="4" fill="#ff0000"/>
<rect x="739" y="418" width="1" height="8" fill="#ff0000"/><rect x="738" y="418" width="3" height="3" fill="#ff0000"/>
<rect x="742" y="402" width="1" height="18" fill="#0000ff"/><rect x="741" y="402" width="3" height="18" fill="#0000ff"/>
<rect x="744" y="391" width="1" height="12" fill="#0000ff"/><rect x="743" y="400" width="3" height="3" fill="#0000ff"/>
<rect x="746" y="393" width="1" height="9" fill="#ff0000"/><rect x="745" y="400" width="3" height="2" fill="#ff0000"/>
<rect x="748" y="402" width="1" height="4" fill="#ff0000"/><rect x="747" y="402" width="3" height="4" fill="#ff0000"/>
<rect x="751" y="405" width="1" height="11" fill="#ff0000"/><rect x="750" y="405" width="3" height="11" fill="#ff0000"/>
<rect x="753" y="414" width="1" height="6" fill="#ff0000"/><rect x="752" y="414" width="3" height="2" fill="#ff0000"/>
<rect x="755" y="412" width="1" height="10" fill="#ff0000"/><rect x="754" y="416" width="3" height="4" fill="#ff0000"/>
<rect x="757" y="411" width="1" height="9" fill="#0000ff"/><rect x="756" y="411" width="3" height="9" fill="#0000ff"/>
<rect x="759" y="409" width="1" height="9" fill="#ff0000"/><rect x="758" y="412" width="3" height="6" fill="#ff0000"/>
<rect x="762" y="418" width="1" height="10" fill="#ff0000"/><rect x="761" y="418" width="3" height="10" fill="#ff0000"/>
<rect x="764" y="422" width="1" height="12" fill="#0000ff"/><rect x="763" y="422" width="3" height="6" fill="#0000ff"/>
<rect x="766" y="415" width="1" height="8" fill="#0000ff"/><rect x="765" y="420" width="3" height="3" fill="#0000ff"/>
<rect x="768" y="421" width="1" height="9" fill="#ff0000"/><rect x="767" y="421" width="3" height="9" fill="#ff0000"/>
<rect x="770" y="430" width="1" height="8" fill="#ff0000"/><rect x="769" y="430" width="3" height="8" fill="#ff0000"/>
<rect x="773" y="437" width="1" height="5" fill="#ff0000"/><rect x="772" y="437" width="3" height="5" fill="#ff0000"/>
<rect x="775" y="430" width="1" height="12" fill="#0000ff"/><rect x="774" y="430" width="3" height="12" fill="#0000ff"/>
<rect x="777" y="426" width="1" height="14" fill="#ff0000"/><rect x="776" y="431" width="3" height="9" fill="#ff0000"/>
<rect x="779" y="427" width="1" height="13" fill="#0000ff"/><rect x="778" y="427" width="3" height="13" fill="#0000ff"/>
<rect x="782" y="419" width="1" height="8" fill="#0000ff"/><rect x="781" y="421" width="3" height="6" fill="#0000ff"/>
<rect x="784" y="417" width="1" height="7" fill="#ff0000"/><rect x="783" y="421" width="3" height="3" fill="#ff0000"/>
<rect x="786" y="420" width="1" height="11" fill="#ff0000"/><rect x="785" y="423" width="3" height="7" fill="#ff0000"/>
<rect x="788" y="424" width="1" height="6" fill="#0000ff"/><rect x="787" y="424" width="3" height="6" fill="#0000ff"/>
<rect x="790" y="422" width="1" height="10" fill="#ff0000"/><rect x="789" y="424" width="3" height="6" fill="#ff0000"/>
<rect x="793" y="416" width="1" height="14" fill="#0000ff"/><rect x="792" y="416" width="3" height="14" fill="#0000ff"/>
<rect x="795" y="404" width="1" height="12" fill="#0000ff"/><rect x="794" y="404" width="3" height="12" fill="#0000ff"/>
<rect x="797" y="401" width="1" height="5" fill="#0000ff"/><rect x="796" y="404" width="3" height="2" fill="#0000ff"/>
<rect x="799" y="402" width="1" height="4" fill="#ff0000"/><rect x="798" y="404" width="3" height="2" fill="#ff0000"/>
<rect x="802" y="402" width="1" height="8" fill="#ff0000"/><rect x="801" y="405" width="3" height="5" fill="#ff0000"/>
<rect x="804" y="410" width="1" height="6" fill="#ff0000"/><rect x="803" y="410" width="3" height="6" fill="#ff0000"/>
<rect x="806" y="413" width="1" height="11" fill="#ff0000"/><rect x="805" y="416" width="3" height="5" fill="#ff0000"/>
<rect x="808" y="413" width="1" height="9" fill="#ff0000"/><rect x="807" y="420" width="3" height="2" fill="#ff0000"/>
<rect x="810" y="418" width="1" height="10" fill="#ff0000"/><rect x="809" y="422" width="3" height="6" fill="#ff0000"/>
<rect x="813" y="419" width="1" height="9" fill="#0000ff"/><rect x="812" y="419" width="3" height="9" fill="#0000ff"/>
<rect x="815" y="412" width="1" height="7" fill="#0000ff"/><rect x="814" y="415" width="3" height="4" fill="#0000ff"/>
<rect x="817" y="414" width="1" height="14" fill="#ff0000"/><rect x="816" y="415" width="3" height="9" fill="#ff0000"/>
<rect x="819" y="418" width="1" height="8" fill="#0000ff"/><rect x="818" y="418" width="3" height="6" fill="#0000ff"/>
<rect x="821" y="414" width="1" height="6" fill="#ff0000"/><rect x="820" y="418" width="3" height="2" fill="#ff0000"/>
<rect x="824" y="412" width="1" height="8" fill="#0000ff"/><rect x="823" y="412" width="3" height="8" fill="#0000ff"/>
<rect x="826" y="396" width="1" height="16" fill="#0000ff"/><rect x="825" y="408" width="3" height="4" fill="#0000ff"/>
<rect x="828" y="402" width="1" height="14" fill="#ff0000"/><rect x="827" y="408" width="3" height="8" fill="#ff0000"/>
<rect x="830" y="410" width="1" height="9" fill="#ff0000"/><rect x="829" y="410" width="3" height="9" fill="#ff0000"/>
<rect x="833" y="413" width="1" height="13" fill="#0000ff"/><rect x="832" y="417" width="3" height="2" fill="#0000ff"/>
<rect x="835" y="415" width="1" height="11" fill="#ff0000"/><rect x="834" y="418" width="3" height="4" fill="#ff0000"/>
<rect x="837" y="421" width="1" height="19" fill="#ff0000"/><rect x="836" y="421" width="3" height="14" fill="#ff0000"/>
<rect x="839" y="423" width="1" height="12" fill="#0000ff"/><rect x="838" y="432" width="3" height="3" fill="#0000ff"/>
<rect x="841" y="431" width="1" height="13" fill="#ff0000"/><rect x="840" y="432" width="3" height="5" fill="#ff0000"/>
<rect x="844" y="421" width="1" height="16" fill="#0000ff"/><rect x="843" y="434" width="3" height="3" fill="#0000ff"/>
<rect x="846" y="426" width="1" height="16" fill="#ff0000"/><rect x="845" y="434" width="3" height="4" fill="#ff0000"/>
<rect x="848" y="431" width="1" height="7" fill="#0000ff"/><rect x="847" y="431" width="3" height="7" fill="#0000ff"/>
<rect x="850" y="419" width="1" height="13" fill="#0000ff"/><rect x="849" y="422" width="3" height="10" fill="#0000ff"/>
<rect x="852" y="419" width="1" height="10" fill="#ff0000"/><rect x="851" y="422" width="3" height="7" fill="#ff0000"/>
<rect x="855" y="425" width="1" height="9" fill="#0000ff"/><rect x="854" y="425" width="3" height="4" fill="#0000ff"/>
<rect x="857" y="423" width="1" height="10" fill="#ff0000"/><rect x="856" y="428" width="3" height="5" fill="#ff0000"/>
<rect x="859" y="433" width="1" height="19" fill="#ff0000"/><rect x="858" y="433" width="3" height="5" fill="#ff0000"/>
<rect x="861" y="434" width="1" height="18" fill="#0000ff"/><rect x="860" y="434" width="3" height="3" fill="#0000ff"/>
<rect x="864" y="435" width="1" height="33" fill="#ff0000"/><rect x="863" y="435" width="3" height="33" fill="#ff0000"/>
<rect x="866" y="468" width="1" height="34" fill="#ff0000"/><rect x="865" y="468" width="3" height="28" fill="#ff0000"/>
<rect x="868" y="462" width="1" height="35" fill="#0000ff"/><rect x="867" y="462" width="3" height="35" fill="#0000ff"/>
<rect x="870" y="457" width="1" height="5" fill="#0000ff"/><rect x="869" y="459" width="3" height="3" fill="#0000ff"/>
<rect x="872" y="459" width="1" height="11" fill="#ff0000"/><rect x="871" y="459" width="3" height="6" fill="#ff0000"/>
<rect x="875" y="447" width="1" height="18" fill="#0000ff"/><rect x="874" y="447" width="3" height="18" fill="#0000ff"/>
<rect x="877" y="425" width="1" height="22" fill="#0000ff"/><rect x="876" y="436" width="3" height="11" fill="#0000ff"/>
<rect x="879" y="418" width="1" height="21" fill="#0000ff"/><rect x="878" y="435" width="3" height="2" fill="#0000ff"/>
<rect x="881" y="425" width="1" height="13" fill="#ff0000"/><rect x="880" y="436" width="3" height="2" fill="#ff0000"/>
<rect x="884" y="425" width="1" height="17" fill="#ff0000"/><rect x="883" y="437" width="3" height="5" fill="#ff0000"/>
<rect x="886" y="434" width="1" height="13" fill="#ff0000"/><rect x="885" y="441" width="3" height="6" fill="#ff0000"/>
<rect x="888" y="434" width="1" height="18" fill="#0000ff"/><rect x="887" y="440" width="3" height="7" fill="#0000ff"/>
<rect x="890" y="431" width="1" height="10" fill="#ff0000"/><rect x="889" y="439" width="3" height="2" fill="#ff0000"/>
<rect x="892" y="422" width="1" height="20" fill="#0000ff"/><rect x="891" y="425" width="3" height="17" fill="#0000ff"/>
<rect x="895" y="421" width="1" height="10" fill="#ff0000"/><rect x="894" y="425" width="3" height="6" fill="#ff0000"/>
<rect x="897" y="420" width="1" height="12" fill="#0000ff"/><rect x="896" y="427" width="3" height="5" fill="#0000ff"/>
<rect x="899" y="419" width="1" height="9" fill="#0000ff"/><rect x="898" y="423" width="3" height="5" fill="#0000ff"/>
<rect x="901" y="417" width="1" height="13" fill="#ff0000"/><rect x="900" y="423" width="3" height="7" fill="#ff0000"/>
<rect x="903" y="429" width="1" height="13" fill="#ff0000"/><rect x="902" y="429" width="3" height="13" fill="#ff0000"/>
<rect x="906" y="440" width="1" height="12" fill="#ff0000"/><rect x="905" y="440" width="3" height="12" fill="#ff0000"/>
<rect x="908" y="443" width="1" height="9" fill="#0000ff"/><rect x="907" y="448" width="3" height="4" fill="#0000ff"/>
<rect x="910" y="445" width="1" height="21" fill="#ff0000"/><rect x="909" y="449" width="3" height="17" fill="#ff0000"/>
<rect x="912" y="456" width="1" height="10" fill="#0000ff"/><rect x="911" y="456" width="3" height="10" fill="#0000ff"/>
<rect x="915" y="449" width="1" height="11" fill="#0000ff"/><rect x="914" y="449" width="3" height="11" fill="#0000ff"/>
<rect x="917" y="433" width="1" height="19" fill="#0000ff"/><rect x="916" y="445" width="3" height="7" fill="#0000ff"/>
<rect x="919" y="436" width="1" height="8" fill="#0000ff"/><rect x="918" y="440" width="3" height="4" fill="#0000ff"/>
</g>
<g fill="#a82418">
<rect x="42" y="314" width="1" height="1"/>
<rect x="43" y="313" width="1" height="1"/>
<rect x="44" y="312" width="1" height="1"/>
<rect x="45" y="311" width="1" height="1"/>
<rect x="46" y="311" width="1" height="1"/>
<rect x="47" y="310" width="1" height="1"/>
<rect x="48" y="309" width="1" height="1"/>
<rect x="49" y="308" width="1" height="1"/>
<rect x="50" y="307" width="1" height="1"/>
<rect x="51" y="305" width="1" height="2"/>
<rect x="52" y="304" width="1" height="1"/>
<rect x="53" y="303" width="1" height="1"/>
<rect x="54" y="301" width="1" height="2"/>
<rect x="55" y="300" width="1" height="1"/>
<rect x="56" y="299" width="1" height="1"/>
<rect x="57" y="297" width="1" height="2"/>
<rect x="58" y="295" width="1" height="2"/>
<rect x="59" y="294" width="1" height="1"/>
<rect x="60" y="293" width="1" height="1"/>
<rect x="61" y="292" width="1" height="1"/>
<rect x="62" y="291" width="1" height="1"/>
<rect x="63" y="290" width="1" height="1"/>
<rect x="64" y="289" width="1" height="1"/>
<rect x="65" y="288" width="1" height="1"/>
<rect x="66" y="287" width="1" height="1"/>
<rect x="67" y="286" width="1" height="1"/>
<rect x="68" y="285" width="1" height="1"/>
<rect x="69" y="284" width="1" height="1"/>
<rect x="70" y="283" width="1" height="1"/>
<rect x="71" y="282" width="1" height="1"/>
<rect x="72" y="281" width="1" height="1"/>
<rect x="73" y="280" width="1" height="1"/>
<rect x="74" y="280" width="1" height="1"/>
<rect x="75" y="279" width="1" height="1"/>
<rect x="76" y="278" width="1" height="1"/>
<rect x="77" y="277" width="1" height="1"/>
<rect x="78" y="276" width="1" height="1"/>
<rect x="79" y="275" width="1" height="1"/>
<rect x="80" y="274" width="1" height="1"/>
<rect x="81" y="273" width="1" height="1"/>
<rect x="82" y="272" width="1" height="1"/>
<rect x="83" y="272" width="1" height="1"/>
<rect x="84" y="271" width="1" height="1"/>
<rect x="85" y="271" width="1" height="1"/>
<rect x="86" y="270" width="1" height="1"/>
<rect x="87" y="268" width="1" height="2"/>
<rect x="88" y="267" width="1" height="1"/>
<rect x="89" y="265" width="1" height="2"/>
<rect x="90" y="264" width="1" height="1"/>
<rect x="91" y="262" width="1" height="2"/>
<rect x="92" y="261" width="1" height="1"/>
<rect x="93" y="259" width="1" height="2"/>
<rect x="94" y="258" width="1" height="1"/>
<rect x="95" y="256" width="1" height="2"/>
<rect x="96" y="252" width="1" height="4"/>
<rect x="97" y="247" width="1" height="5"/>
<rect x="98" y="242" width="1" height="5"/>
<rect x="99" y="236" width="1" height="6"/>
<rect x="100" y="231" width="1" height="5"/>
<rect x="101" y="227" width="1" height="4"/>
<rect x="102" y="223" width="1" height="4"/>
<rect x="103" y="219" width="1" height="4"/>
<rect x="104" y="216" width="1" height="3"/>
<rect x="105" y="214" width="1" height="2"/>
<rect x="106" y="212" width="1" height="2"/>
<rect x="107" y="210" width="1" height="2"/>
<rect x="108" y="208" width="1" height="2"/>
<rect x="109" y="207" width="1" height="1"/>
<rect x="110" y="205" width="1" height="2"/>
<rect x="111" y="204" width="1" height="1"/>
<rect x="112" y="202" width="1" height="2"/>
<rect x="113" y="201" width="1" height="1"/>
<rect x="114" y="199" width="1" height="2"/>
<rect x="115" y="198" width="1" height="1"/>
<rect x="116" y="196" width="1" height="2"/>
<rect x="117" y="194" width="1" height="2"/>
<rect x="118" y="192" width="1" height="2"/>
<rect x="119" y="190" width="1" height="2"/>
<rect x="120" y="189" width="1" height="1"/>
<rect x="121" y="189" width="1" height="1"/>
<rect x="122" y="188" width="1" height="1"/>
<rect x="123" y="188" width="1" height="1"/>
<rect x="124" y="188" width="1" height="1"/>
<rect x="125" y="186" width="1" height="2"/>
<rect x="126" y="182" width="1" height="4"/>
<rect x="127" y="177" width="1" height="5"/>
<rect x="128" y="172" width="1" height="5"/>
<rect x="129" y="166" width="1" height="6"/>
<rect x="130" y="160" width="1" height="6"/>
<rect x="131" y="154" width="1" height="6"/>
<rect x="132" y="149" width="1" height="5"/>
<rect x="133" y="143" width="1" height="6"/>
<rect x="134" y="139" width="1" height="4"/>
<rect x="135" y="135" width="1" height="4"/>
<rect x="136" y="132" width="1" height="3"/>
<rect x="137" y="128" width="1" height="4"/>
<rect x="138" y="124" width="1" height="4"/>
<rect x="139" y="121" width="1" height="3"/>
<rect x="140" y="117" width="1" height="4"/>
<rect x="141" y="113" width="1" height="4"/>
<rect x="142" y="109" width="1" height="4"/>
<rect x="143" y="106" width="1" height="3"/>
<rect x="144" y="105" width="1" height="1"/>
<rect x="145" y="104" width="1" height="1"/>
<rect x="146" y="102" width="1" height="2"/>
<rect x="147" y="101" width="1" height="1"/>
<rect x="148" y="100" width="1" height="1"/>
<rect x="149" y="98" width="1" height="2"/>
<rect x="150" y="97" width="1" height="1"/>
<rect x="151" y="95" width="1" height="2"/>
<rect x="152" y="94" width="1" height="1"/>
<rect x="153" y="93" width="1" height="1"/>
<rect x="154" y="93" width="1" height="1"/>
<rect x="155" y="92" width="1" height="1"/>
<rect x="156" y="92" width="1" height="1"/>
<rect x="157" y="91" width="1" height="1"/>
<rect x="158" y="92" width="1" height="1"/>
<rect x="159" y="93" width="1" height="1"/>
<rect x="160" y="94" width="1" height="1"/>
<rect x="161" y="95" width="1" height="1"/>
<rect x="162" y="96" width="1" height="1"/>
<rect x="163" y="97" width="1" height="2"/>
<rect x="164" y="99" width="1" height="2"/>
<rect x="165" y="101" width="1" height="2"/>
<rect x="166" y="103" width="1" height="2"/>
<rect x="167" y="105" width="1" height="3"/>
<rect x="168" y="108" width="1" height="2"/>
<rect x="169" y="110" width="1" height="3"/>
<rect x="170" y="113" width="1" height="4"/>
<rect x="171" y="117" width="1" height="6"/>
<rect x="172" y="123" width="1" height="6"/>
<rect x="173" y="129" width="1" height="6"/>
<rect x="174" y="135" width="1" height="6"/>
<rect x="175" y="141" width="1" height="6"/>
<rect x="176" y="147" width="1" height="6"/>
<rect x="177" y="153" width="1" height="5"/>
<rect x="178" y="158" width="1" height="5"/>
<rect x="179" y="163" width="1" height="5"/>
<rect x="180" y="168" width="1" height="5"/>
<rect x="181" y="173" width="1" height="6"/>
<rect x="182" y="179" width="1" height="5"/>
<rect x="183" y="184" width="1" height="6"/>
<rect x="184" y="190" width="1" height="4"/>
<rect x="185" y="194" width="1" height="3"/>
<rect x="186" y="197" width="1" height="2"/>
<rect x="187" y="199" width="1" height="3"/>
<rect x="188" y="202" width="1" height="3"/>
<rect x="189" y="205" width="1" height="2"/>
<rect x="190" y="206" width="1" height="1"/>
<rect x="191" y="205" width="1" height="1"/>
<rect x="192" y="203" width="1" height="2"/>
<rect x="193" y="202" width="1" height="1"/>
<rect x="194" y="200" width="1" height="2"/>
<rect x="195" y="199" width="1" height="1"/>
<rect x="196" y="197" width="1" height="2"/>
<rect x="197" y="195" width="1" height="2"/>
<rect x="198" y="194" width="1" height="1"/>
<rect x="199" y="192" width="1" height="2"/>
<rect x="200" y="190" width="1" height="2"/>
<rect x="201" y="188" width="1" height="2"/>
<rect x="202" y="185" width="1" height="3"/>
<rect x="203" y="183" width="1" height="2"/>
<rect x="204" y="180" width="1" height="3"/>
<rect x="205" y="177" width="1" height="3"/>
<rect x="206" y="175" width="1" height="2"/>
<rect x="207" y="172" width="1" height="3"/>
<rect x="208" y="169" width="1" height="3"/>
<rect x="209" y="167" width="1" height="2"/>
<rect x="210" y="164" width="1" height="3"/>
<rect x="211" y="162" width="1" height="2"/>
<rect x="212" y="159" width="1" height="3"/>
<rect x="213" y="155" width="1" height="4"/>
<rect x="214" y="152" width="1" height="3"/>
<rect x="215" y="148" width="1" height="4"/>
<rect x="216" y="146" width="1" height="2"/>
<rect x="217" y="145" width="1" height="1"/>
<rect x="218" y="144" width="1" height="1"/>
<rect x="219" y="142" width="1" height="2"/>
<rect x="220" y="141" width="1" height="1"/>
<rect x="221" y="140" width="1" height="1"/>
<rect x="222" y="140" width="1" height="1"/>
<rect x="223" y="140" width="1" height="1"/>
<rect x="224" y="140" width="1" height="1"/>
<rect x="225" y="141" width="1" height="1"/>
<rect x="226" y="141" width="1" height="1"/>
<rect x="227" y="142" width="1" height="1"/>
<rect x="228" y="142" width="1" height="1"/>
<rect x="229" y="143" width="1" height="2"/>
<rect x="230" y="145" width="1" height="1"/>
<rect x="231" y="146" width="1" height="2"/>
<rect x="232" y="148" width="1" height="2"/>
<rect x="233" y="150" width="1" height="3"/>
<rect x="234" y="153" width="1" height="3"/>
<rect x="235" y="156" width="1" height="3"/>
<rect x="236" y="159" width="1" height="3"/>
<rect x="237" y="162" width="1" height="2"/>
<rect x="238" y="164" width="1" height="3"/>
<rect x="239" y="167" width="1" height="2"/>
<rect x="240" y="169" width="1" height="4"/>
<rect x="241" y="173" width="1" height="5"/>
<rect x="242" y="178" width="1" height="4"/>
<rect x="243" y="182" width="1" height="3"/>
<rect x="244" y="185" width="1" height="4"/>
<rect x="245" y="189" width="1" height="2"/>
<rect x="246" y="191" width="1" height="1"/>
<rect x="247" y="192" width="1" height="1"/>
<rect x="248" y="193" width="1" height="2"/>
<rect x="249" y="195" width="1" height="1"/>
<rect x="250" y="196" width="1" height="2"/>
<rect x="251" y="198" width="1" height="2"/>
<rect x="252" y="200" width="1" height="3"/>
<rect x="253" y="203" width="1" height="3"/>
<rect x="254" y="206" width="1" height="4"/>
<rect x="255" y="210" width="1" height="4"/>
<rect x="256" y="214" width="1" height="4"/>
<rect x="257" y="218" width="1" height="4"/>
<rect x="258" y="222" width="1" height="3"/>
<rect x="259" y="225" width="1" height="4"/>
<rect x="260" y="229" width="1" height="4"/>
<rect x="261" y="233" width="1" height="5"/>
<rect x="262" y="238" width="1" height="6"/>
<rect x="263" y="244" width="1" height="5"/>
<rect x="264" y="249" width="1" height="5"/>
<rect x="265" y="254" width="1" height="6"/>
<rect x="266" y="260" width="1" height="5"/>
<rect x="267" y="265" width="1" height="6"/>
<rect x="268" y="271" width="1" height="5"/>
<rect x="269" y="276" width="1" height="6"/>
<rect x="270" y="282" width="1" height="5"/>
<rect x="271" y="287" width="1" height="5"/>
<rect x="272" y="292" width="1" height="4"/>
<rect x="273" y="296" width="1" height="5"/>
<rect x="274" y="301" width="1" height="5"/>
<rect x="275" y="306" width="1" height="4"/>
<rect x="276" y="310" width="1" height="2"/>
<rect x="277" y="312" width="1" height="2"/>
<rect x="278" y="314" width="1" height="2"/>
<rect x="279" y="316" width="1" height="3"/>
<rect x="280" y="319" width="1" height="2"/>
<rect x="281" y="321" width="1" height="2"/>
<rect x="282" y="323" width="1" height="2"/>
<rect x="283" y="324" width="1" height="1"/>
<rect x="284" y="324" width="1" height="1"/>
<rect x="285" y="324" width="1" height="1"/>
<rect x="286" y="324" width="1" height="1"/>
<rect x="287" y="324" width="1" height="1"/>
<rect x="288" y="323" width="1" height="2"/>
<rect x="289" y="321" width="1" height="2"/>
<rect x="290" y="318" width="1" height="3"/>
<rect x="291" y="316" width="1" height="2"/>
<rect x="292" y="313" width="1" height="3"/>
<rect x="293" y="311" width="1" height="2"/>
<rect x="294" y="309" width="1" height="2"/>
<rect x="295" y="306" width="1" height="3"/>
<rect x="296" y="304" width="1" height="2"/>
<rect x="297" y="302" width="1" height="2"/>
<rect x="298" y="300" width="1" height="2"/>
<rect x="299" y="298" width="1" height="2"/>
<rect x="300" y="295" width="1" height="3"/>
<rect x="301" y="292" width="1" height="3"/>
<rect x="302" y="290" width="1" height="2"/>
<rect x="303" y="287" width="1" height="3"/>
<rect x="304" y="284" width="1" height="3"/>
<rect x="305" y="281" width="1" height="3"/>
<rect x="306" y="279" width="1" height="2"/>
<rect x="307" y="276" width="1" height="3"/>
<rect x="308" y="274" width="1" height="2"/>
<rect x="309" y="272" width="1" height="2"/>
<rect x="310" y="271" width="1" height="1"/>
<rect x="311" y="271" width="1" height="1"/>
<rect x="312" y="270" width="1" height="1"/>
<rect x="313" y="270" width="1" height="1"/>
<rect x="314" y="270" width="1" height="1"/>
<rect x="315" y="270" width="1" height="1"/>
<rect x="316" y="270" width="1" height="1"/>
<rect x="317" y="269" width="1" height="1"/>
<rect x="318" y="269" width="1" height="1"/>
<rect x="319" y="268" width="1" height="1"/>
<rect x="320" y="269" width="1" height="1"/>
<rect x="321" y="269" width="1" height="1"/>
<rect x="322" y="270" width="1" height="1"/>
<rect x="323" y="270" width="1" height="1"/>
<rect x="324" y="270" width="1" height="1"/>
<rect x="325" y="270" width="1" height="1"/>
<rect x="326" y="270" width="1" height="1"/>
<rect x="327" y="270" width="1" height="1"/>
<rect x="328" y="270" width="1" height="1"/>
<rect x="329" y="270" width="1" height="1"/>
<rect x="330" y="270" width="1" height="1"/>
<rect x="331" y="270" width="1" height="1"/>
<rect x="332" y="269" width="1" height="1"/>
<rect x="333" y="269" width="1" height="1"/>
<rect x="334" y="268" width="1" height="1"/>
<rect x="335" y="268" width="1" height="1"/>
<rect x="336" y="268" width="1" height="1"/>
<rect x="337" y="268" width="1" height="1"/>
<rect x="338" y="268" width="1" height="1"/>
<rect x="339" y="267" width="1" height="1"/>
<rect x="340" y="267" width="1" height="1"/>
<rect x="341" y="267" width="1" height="1"/>
<rect x="342" y="267" width="1" height="1"/>
<rect x="343" y="268" width="1" height="1"/>
<rect x="344" y="268" width="1" height="1"/>
<rect x="345" y="269" width="1" height="1"/>
<rect x="346" y="269" width="1" height="1"/>
<rect x="347" y="270" width="1" height="2"/>
<rect x="348" y="272" width="1" height="2"/>
<rect x="349" y="274" width="1" height="2"/>
<rect x="350" y="276" width="1" height="1"/>
<rect x="351" y="277" width="1" height="1"/>
<rect x="352" y="278" width="1" height="2"/>
<rect x="353" y="280" width="1" height="1"/>
<rect x="354" y="281" width="1" height="1"/>
<rect x="355" y="282" width="1" height="2"/>
<rect x="356" y="284" width="1" height="1"/>
<rect x="357" y="285" width="1" height="2"/>
<rect x="358" y="287" width="1" height="2"/>
<rect x="359" y="289" width="1" height="2"/>
<rect x="360" y="291" width="1" height="2"/>
<rect x="361" y="293" width="1" height="2"/>
<rect x="362" y="295" width="1" height="1"/>
<rect x="363" y="296" width="1" height="2"/>
<rect x="364" y="298" width="1" height="1"/>
<rect x="365" y="299" width="1" height="1"/>
<rect x="366" y="299" width="1" height="1"/>
<rect x="367" y="299" width="1" height="1"/>
<rect x="368" y="299" width="1" height="1"/>
<rect x="369" y="297" width="1" height="2"/>
<rect x="370" y="296" width="1" height="1"/>
<rect x="371" y="295" width="1" height="1"/>
<rect x="372" y="294" width="1" height="1"/>
<rect x="373" y="294" width="1" height="1"/>
<rect x="374" y="293" width="1" height="1"/>
<rect x="375" y="292" width="1" height="1"/>
<rect x="376" y="290" width="1" height="2"/>
<rect x="377" y="289" width="1" height="1"/>
<rect x="378" y="287" width="1" height="2"/>
<rect x="379" y="286" width="1" height="1"/>
<rect x="380" y="284" width="1" height="2"/>
<rect x="381" y="282" width="1" height="2"/>
<rect x="382" y="280" width="1" height="2"/>
<rect x="383" y="279" width="1" height="1"/>
<rect x="384" y="279" width="1" height="1"/>
<rect x="385" y="280" width="1" height="1"/>
<rect x="386" y="280" width="1" height="1"/>
<rect x="387" y="281" width="1" height="1"/>
<rect x="388" y="281" width="1" height="1"/>
<rect x="389" y="282" width="1" height="1"/>
<rect x="390" y="283" width="1" height="1"/>
<rect x="391" y="283" width="1" height="1"/>
<rect x="392" y="284" width="1" height="1"/>
<rect x="393" y="285" width="1" height="1"/>
<rect x="394" y="285" width="1" height="1"/>
<rect x="395" y="286" width="1" height="1"/>
<rect x="396" y="287" width="1" height="1"/>
<rect x="397" y="287" width="1" height="1"/>
<rect x="398" y="288" width="1" height="1"/>
<rect x="399" y="289" width="1" height="1"/>
<rect x="400" y="290" width="1" height="1"/>
<rect x="401" y="291" width="1" height="1"/>
<rect x="402" y="292" width="1" height="1"/>
<rect x="403" y="293" width="1" height="1"/>
<rect x="404" y="294" width="1" height="1"/>
<rect x="405" y="295" width="1" height="1"/>
<rect x="406" y="296" width="1" height="1"/>
<rect x="407" y="297" width="1" height="1"/>
<rect x="408" y="297" width="1" height="1"/>
<rect x="409" y="298" width="1" height="1"/>
<rect x="410" y="298" width="1" height="1"/>
<rect x="411" y="298" width="1" height="1"/>
<rect x="412" y="298" width="1" height="1"/>
<rect x="413" y="298" width="1" height="1"/>
<rect x="414" y="299" width="1" height="1"/>
<rect x="415" y="300" width="1" height="2"/>
<rect x="416" y="302" width="1" height="1"/>
<rect x="417" y="303" width="1" height="1"/>
<rect x="418" y="303" width="1" height="1"/>
<rect x="419" y="304" width="1" height="1"/>
<rect x="420" y="305" width="1" height="1"/>
<rect x="421" y="306" width="1" height="1"/>
<rect x="422" y="307" width="1" height="1"/>
<rect x="423" y="308" width="1" height="1"/>
<rect x="424" y="308" width="1" height="1"/>
<rect x="425" y="309" width="1" height="1"/>
<rect x="426" y="309" width="1" height="1"/>
<rect x="427" y="310" width="1" height="1"/>
<rect x="428" y="310" width="1" height="1"/>
<rect x="429" y="311" width="1" height="1"/>
<rect x="430" y="312" width="1" height="1"/>
<rect x="431" y="312" width="1" height="1"/>
<rect x="432" y="313" width="1" height="1"/>
<rect x="433" y="314" width="1" height="1"/>
<rect x="434" y="314" width="1" height="1"/>
<rect x="435" y="315" width="1" height="1"/>
<rect x="436" y="315" width="1" height="1"/>
<rect x="437" y="316" width="1" height="1"/>
<rect x="438" y="316" width="1" height="1"/>
<rect x="439" y="317" width="1" height="1"/>
<rect x="440" y="318" width="1" height="1"/>
<rect x="441" y="318" width="1" height="1"/>
<rect x="442" y="319" width="1" height="1"/>
<rect x="443" y="320" width="1" height="1"/>
<rect x="444" y="321" width="1" height="2"/>
<rect x="445" y="323" width="1" height="1"/>
<rect x="446" y="324" width="1" height="2"/>
<rect x="447" y="326" width="1" height="2"/>
<rect x="448" y="328" width="1" height="1"/>
<rect x="449" y="329" width="1" height="1"/>
<rect x="450" y="330" width="1" height="1"/>
<rect x="451" y="331" width="1" height="2"/>
<rect x="452" y="333" width="1" height="1"/>
<rect x="453" y="334" width="1" height="1"/>
<rect x="454" y="335" width="1" height="2"/>
<rect x="455" y="337" width="1" height="1"/>
<rect x="456" y="338" width="1" height="2"/>
<rect x="457" y="340" width="1" height="1"/>
<rect x="458" y="341" width="1" height="2"/>
<rect x="459" y="343" width="1" height="3"/>
<rect x="460" y="346" width="1" height="2"/>
<rect x="461" y="348" width="1" height="3"/>
<rect x="462" y="351" width="1" height="2"/>
<rect x="463" y="353" width="1" height="2"/>
<rect x="464" y="355" width="1" height="1"/>
<rect x="465" y="356" width="1" height="1"/>
<rect x="466" y="357" width="1" height="2"/>
<rect x="467" y="359" width="1" height="1"/>
<rect x="468" y="360" width="1" height="1"/>
<rect x="469" y="361" width="1" height="1"/>
<rect x="470" y="362" width="1" height="1"/>
<rect x="471" y="363" width="1" height="1"/>
<rect x="472" y="364" width="1" height="1"/>
<rect x="473" y="363" width="1" height="1"/>
<rect x="474" y="363" width="1" height="1"/>
<rect x="475" y="362" width="1" height="1"/>
<rect x="476" y="361" width="1" height="2"/>
<rect x="477" y="359" width="1" height="2"/>
<rect x="478" y="356" width="1" height="3"/>
<rect x="479" y="354" width="1" height="2"/>
<rect x="480" y="351" width="1" height="3"/>
<rect x="481" y="349" width="1" height="2"/>
<rect x="482" y="347" width="1" height="2"/>
<rect x="483" y="344" width="1" height="3"/>
<rect x="484" y="342" width="1" height="2"/>
<rect x="485" y="339" width="1" height="3"/>
<rect x="486" y="336" width="1" height="3"/>
<rect x="487" y="334" width="1" height="2"/>
<rect x="488" y="331" width="1" height="3"/>
<rect x="489" y="328" width="1" height="3"/>
<rect x="490" y="325" width="1" height="3"/>
<rect x="491" y="323" width="1" height="2"/>
<rect x="492" y="321" width="1" height="2"/>
<rect x="493" y="319" width="1" height="2"/>
<rect x="494" y="318" width="1" height="1"/>
<rect x="495" y="317" width="1" height="1"/>
<rect x="496" y="317" width="1" height="1"/>
<rect x="497" y="316" width="1" height="1"/>
<rect x="498" y="315" width="1" height="1"/>
<rect x="499" y="315" width="1" height="1"/>
<rect x="500" y="314" width="1" height="1"/>
<rect x="501" y="314" width="1" height="1"/>
<rect x="502" y="315" width="1" height="1"/>
<rect x="503" y="315" width="1" height="1"/>
<rect x="504" y="316" width="1" height="1"/>
<rect x="505" y="317" width="1" height="2"/>
<rect x="506" y="319" width="1" height="1"/>
<rect x="507" y="320" width="1" height="2"/>
<rect x="508" y="322" width="1" height="2"/>
<rect x="509" y="324" width="1" height="2"/>
<rect x="510" y="326" width="1" height="3"/>
<rect x="511" y="329" width="1" height="2"/>
<rect x="512" y="331" width="1" height="3"/>
<rect x="513" y="334" width="1" height="2"/>
<rect x="514" y="336" width="1" height="3"/>
<rect x="515" y="339" width="1" height="2"/>
<rect x="516" y="341" width="1" height="3"/>
<rect x="517" y="344" width="1" height="2"/>
<rect x="518" y="346" width="1" height="3"/>
<rect x="519" y="349" width="1" height="2"/>
<rect x="520" y="351" width="1" height="2"/>
<rect x="521" y="353" width="1" height="2"/>
<rect x="522" y="355" width="1" height="2"/>
<rect x="523" y="357" width="1" height="2"/>
<rect x="524" y="359" width="1" height="2"/>
<rect x="525" y="360" width="1" height="1"/>
<rect x="526" y="360" width="1" height="1"/>
<rect x="527" y="360" width="1" height="1"/>
<rect x="528" y="361" width="1" height="1"/>
<rect x="529" y="361" width="1" height="1"/>
<rect x="530" y="361" width="1" height="1"/>
<rect x="531" y="361" width="1" height="1"/>
<rect x="532" y="360" width="1" height="1"/>
<rect x="533" y="358" width="1" height="2"/>
<rect x="534" y="357" width="1" height="1"/>
<rect x="535" y="356" width="1" height="1"/>
<rect x="536" y="355" width="1" height="1"/>
<rect x="537" y="354" width="1" height="1"/>
<rect x="538" y="354" width="1" height="1"/>
<rect x="539" y="353" width="1" height="1"/>
<rect x="540" y="352" width="1" height="1"/>
<rect x="541" y="350" width="1" height="2"/>
<rect x="542" y="349" width="1" height="1"/>
<rect x="543" y="347" width="1" height="2"/>
<rect x="544" y="346" width="1" height="1"/>
<rect x="545" y="346" width="1" height="1"/>
<rect x="546" y="346" width="1" height="1"/>
<rect x="547" y="346" width="1" height="1"/>
<rect x="548" y="346" width="1" height="1"/>
<rect x="549" y="346" width="1" height="1"/>
<rect x="550" y="346" width="1" height="1"/>
<rect x="551" y="346" width="1" height="1"/>
<rect x="552" y="346" width="1" height="1"/>
<rect x="553" y="346" width="1" height="1"/>
<rect x="554" y="347" width="1" height="1"/>
<rect x="555" y="347" width="1" height="1"/>
<rect x="556" y="347" width="1" height="1"/>
<rect x="557" y="347" width="1" height="1"/>
<rect x="558" y="347" width="1" height="1"/>
<rect x="559" y="347" width="1" height="1"/>
<rect x="560" y="348" width="1" height="1"/>
<rect x="561" y="348" width="1" height="1"/>
<rect x="562" y="349" width="1" height="1"/>
<rect x="563" y="349" width="1" height="1"/>
<rect x="564" y="349" width="1" height="1"/>
<rect x="565" y="349" width="1" height="1"/>
<rect x="566" y="349" width="1" height="1"/>
<rect x="567" y="350" width="1" height="1"/>
<rect x="568" y="350" width="1" height="1"/>
<rect x="569" y="351" width="1" height="1"/>
<rect x="570" y="351" width="1" height="1"/>
<rect x="571" y="352" width="1" height="1"/>
<rect x="572" y="353" width="1" height="2"/>
<rect x="573" y="355" width="1" height="2"/>
<rect x="574" y="357" width="1" height="2"/>
<rect x="575" y="359" width="1" height="2"/>
<rect x="576" y="361" width="1" height="2"/>
<rect x="577" y="363" width="1" height="1"/>
<rect x="578" y="364" width="1" height="2"/>
<rect x="579" y="366" width="1" height="2"/>
<rect x="580" y="368" width="1" height="1"/>
<rect x="581" y="369" width="1" height="1"/>
<rect x="582" y="370" width="1" height="1"/>
<rect x="583" y="371" width="1" height="2"/>
<rect x="584" y="373" width="1" height="1"/>
<rect x="585" y="374" width="1" height="1"/>
<rect x="586" y="375" width="1" height="2"/>
<rect x="587" y="377" width="1" height="1"/>
<rect x="588" y="378" width="1" height="2"/>
<rect x="589" y="380" width="1" height="1"/>
<rect x="590" y="381" width="1" height="1"/>
<rect x="591" y="382" width="1" height="1"/>
<rect x="592" y="383" width="1" height="1"/>
<rect x="593" y="384" width="1" height="1"/>
<rect x="594" y="385" width="1" height="2"/>
<rect x="595" y="387" width="1" height="1"/>
<rect x="596" y="388" width="1" height="1"/>
<rect x="597" y="389" width="1" height="2"/>
<rect x="598" y="391" width="1" height="1"/>
<rect x="599" y="392" width="1" height="2"/>
<rect x="600" y="394" width="1" height="1"/>
<rect x="601" y="395" width="1" height="2"/>
<rect x="602" y="397" width="1" height="1"/>
<rect x="603" y="398" width="1" height="2"/>
<rect x="604" y="400" width="1" height="1"/>
<rect x="605" y="400" width="1" height="1"/>
<rect x="606" y="401" width="1" height="1"/>
<rect x="607" y="401" width="1" height="1"/>
<rect x="608" y="401" width="1" height="1"/>
<rect x="609" y="400" width="1" height="1"/>
<rect x="610" y="400" width="1" height="1"/>
<rect x="611" y="399" width="1" height="1"/>
<rect x="612" y="399" width="1" height="1"/>
<rect x="613" y="397" width="1" height="2"/>
<rect x="614" y="395" width="1" height="2"/>
<rect x="615" y="393" width="1" height="2"/>
<rect x="616" y="392" width="1" height="1"/>
<rect x="617" y="390" width="1" height="2"/>
<rect x="618" y="388" width="1" height="2"/>
<rect x="619" y="387" width="1" height="1"/>
<rect x="620" y="385" width="1" height="2"/>
<rect x="621" y="383" width="1" height="2"/>
<rect x="622" y="382" width="1" height="1"/>
<rect x="623" y="380" width="1" height="2"/>
<rect x="624" y="379" width="1" height="1"/>
<rect x="625" y="377" width="1" height="2"/>
<rect x="626" y="375" width="1" height="2"/>
<rect x="627" y="374" width="1" height="1"/>
<rect x="628" y="373" width="1" height="1"/>
<rect x="629" y="372" width="1" height="1"/>
<rect x="630" y="371" width="1" height="1"/>
<rect x="631" y="370" width="1" height="1"/>
<rect x="632" y="370" width="1" height="1"/>
<rect x="633" y="369" width="1" height="1"/>
<rect x="634" y="369" width="1" height="1"/>
<rect x="635" y="369" width="1" height="1"/>
<rect x="636" y="369" width="1" height="1"/>
<rect x="637" y="369" width="1" height="1"/>
<rect x="638" y="370" width="1" height="1"/>
<rect x="639" y="370" width="1" height="1"/>
<rect x="640" y="370" width="1" height="1"/>
<rect x="641" y="370" width="1" height="1"/>
<rect x="642" y="371" width="1" height="1"/>
<rect x="643" y="372" width="1" height="1"/>
<rect x="644" y="372" width="1" height="1"/>
<rect x="645" y="373" width="1" height="1"/>
<rect x="646" y="374" width="1" height="1"/>
<rect x="647" y="375" width="1" height="1"/>
<rect x="648" y="376" width="1" height="2"/>
<rect x="649" y="378" width="1" height="1"/>
<rect x="650" y="379" width="1" height="1"/>
<rect x="651" y="380" width="1" height="1"/>
<rect x="652" y="381" width="1" height="1"/>
<rect x="653" y="382" width="1" height="1"/>
<rect x="654" y="383" width="1" height="1"/>
<rect x="655" y="384" width="1" height="1"/>
<rect x="656" y="385" width="1" height="1"/>
<rect x="657" y="386" width="1" height="1"/>
<rect x="658" y="387" width="1" height="1"/>
<rect x="659" y="388" width="1" height="1"/>
<rect x="660" y="389" width="1" height="1"/>
<rect x="661" y="389" width="1" height="1"/>
<rect x="662" y="389" width="1" height="1"/>
<rect x="663" y="390" width="1" height="1"/>
<rect x="664" y="390" width="1" height="1"/>
<rect x="665" y="390" width="1" height="1"/>
<rect x="666" y="390" width="1" height="1"/>
<rect x="667" y="390" width="1" height="1"/>
<rect x="668" y="391" width="1" height="1"/>
<rect x="669" y="391" width="1" height="1"/>
<rect x="670" y="391" width="1" height="1"/>
<rect x="671" y="391" width="1" height="1"/>
<rect x="672" y="392" width="1" height="1"/>
<rect x="673" y="392" width="1" height="1"/>
<rect x="674" y="392" width="1" height="1"/>
<rect x="675" y="393" width="1" height="1"/>
<rect x="676" y="393" width="1" height="1"/>
<rect x="677" y="393" width="1" height="1"/>
<rect x="678" y="394" width="1" height="1"/>
<rect x="679" y="394" width="1" height="1"/>
<rect x="680" y="394" width="1" height="1"/>
<rect x="681" y="395" width="1" height="1"/>
<rect x="682" y="395" width="1" height="1"/>
<rect x="683" y="395" width="1" height="1"/>
<rect x="684" y="396" width="1" height="1"/>
<rect x="685" y="396" width="1" height="1"/>
<rect x="686" y="396" width="1" height="1"/>
<rect x="687" y="395" width="1" height="1"/>
<rect x="688" y="395" width="1" height="1"/>
<rect x="689" y="395" width="1" height="1"/>
<rect x="690" y="394" width="1" height="1"/>
<rect x="691" y="394" width="1" height="1"/>
<rect x="692" y="394" width="1" height="1"/>
<rect x="693" y="394" width="1" height="1"/>
<rect x="694" y="394" width="1" height="1"/>
<rect x="695" y="394" width="1" height="1"/>
<rect x="696" y="394" width="1" height="1"/>
<rect x="697" y="394" width="1" height="1"/>
<rect x="698" y="395" width="1" height="1"/>
<rect x="699" y="396" width="1" height="2"/>
<rect x="700" y="398" width="1" height="1"/>
<rect x="701" y="399" width="1" height="1"/>
<rect x="702" y="400" width="1" height="1"/>
<rect x="703" y="401" width="1" height="1"/>
<rect x="704" y="402" width="1" height="1"/>
<rect x="705" y="403" width="1" height="1"/>
<rect x="706" y="404" width="1" height="1"/>
<rect x="707" y="405" width="1" height="1"/>
<rect x="708" y="406" width="1" height="2"/>
<rect x="709" y="408" width="1" height="1"/>
<rect x="710" y="409" width="1" height="1"/>
<rect x="711" y="410" width="1" height="2"/>
<rect x="712" y="412" width="1" height="1"/>
<rect x="713" y="413" width="1" height="1"/>
<rect x="714" y="414" width="1" height="1"/>
<rect x="715" y="415" width="1" height="1"/>
<rect x="716" y="416" width="1" height="1"/>
<rect x="717" y="417" width="1" height="1"/>
<rect x="718" y="418" width="1" height="1"/>
<rect x="719" y="419" width="1" height="1"/>
<rect x="720" y="420" width="1" height="1"/>
<rect x="721" y="419" width="1" height="1"/>
<rect x="722" y="419" width="1" height="1"/>
<rect x="723" y="418" width="1" height="1"/>
<rect x="724" y="418" width="1" height="1"/>
<rect x="725" y="418" width="1" height="1"/>
<rect x="726" y="417" width="1" height="1"/>
<rect x="727" y="417" width="1" height="1"/>
<rect x="728" y="417" width="1" height="1"/>
<rect x="729" y="416" width="1" height="1"/>
<rect x="730" y="416" width="1" height="1"/>
<rect x="731" y="415" width="1" height="1"/>
<rect x="732" y="415" width="1" height="1"/>
<rect x="733" y="414" width="1" height="1"/>
<rect x="734" y="414" width="1" height="1"/>
<rect x="735" y="413" width="1" height="1"/>
<rect x="736" y="413" width="1" height="1"/>
<rect x="737" y="412" width="1" height="1"/>
<rect x="738" y="412" width="1" height="1"/>
<rect x="739" y="411" width="1" height="1"/>
<rect x="740" y="411" width="1" height="1"/>
<rect x="741" y="410" width="1" height="1"/>
<rect x="742" y="410" width="1" height="1"/>
<rect x="743" y="410" width="1" height="1"/>
<rect x="744" y="410" width="1" height="1"/>
<rect x="745" y="409" width="1" height="1"/>
<rect x="746" y="409" width="1" height="1"/>
<rect x="747" y="409" width="1" height="1"/>
<rect x="748" y="408" width="1" height="1"/>
<rect x="749" y="408" width="1" height="1"/>
<rect x="750" y="408" width="1" height="1"/>
<rect x="751" y="409" width="1" height="1"/>
<rect x="752" y="409" width="1" height="1"/>
<rect x="753" y="409" width="1" height="1"/>
<rect x="754" y="409" width="1" height="1"/>
<rect x="755" y="409" width="1" height="1"/>
<rect x="756" y="409" width="1" height="1"/>
<rect x="757" y="409" width="1" height="1"/>
<rect x="758" y="409" width="1" height="1"/>
<rect x="759" y="409" width="1" height="1"/>
<rect x="760" y="410" width="1" height="1"/>
<rect x="761" y="411" width="1" height="1"/>
<rect x="762" y="412" width="1" height="1"/>
<rect x="763" y="413" width="1" height="1"/>
<rect x="764" y="414" width="1" height="1"/>
<rect x="765" y="415" width="1" height="1"/>
<rect x="766" y="416" width="1" height="1"/>
<rect x="767" y="417" width="1" height="1"/>
<rect x="768" y="418" width="1" height="1"/>
<rect x="769" y="419" width="1" height="1"/>
<rect x="770" y="420" width="1" height="1"/>
<rect x="771" y="421" width="1" height="1"/>
<rect x="772" y="422" width="1" height="1"/>
<rect x="773" y="423" width="1" height="1"/>
<rect x="774" y="424" width="1" height="1"/>
<rect x="775" y="425" width="1" height="1"/>
<rect x="776" y="426" width="1" height="1"/>
<rect x="777" y="427" width="1" height="1"/>
<rect x="778" y="428" width="1" height="1"/>
<rect x="779" y="428" width="1" height="1"/>
<rect x="780" y="429" width="1" height="1"/>
<rect x="781" y="429" width="1" height="1"/>
<rect x="782" y="429" width="1" height="1"/>
<rect x="783" y="429" width="1" height="1"/>
<rect x="784" y="429" width="1" height="1"/>
<rect x="785" y="429" width="1" height="1"/>
<rect x="786" y="429" width="1" height="1"/>
<rect x="787" y="429" width="1" height="1"/>
<rect x="788" y="429" width="1" height="1"/>
<rect x="789" y="429" width="1" height="1"/>
<rect x="790" y="429" width="1" height="1"/>
<rect x="791" y="428" width="1" height="1"/>
<rect x="792" y="427" width="1" height="1"/>
<rect x="793" y="426" width="1" height="1"/>
<rect x="794" y="425" width="1" height="1"/>
<rect x="795" y="424" width="1" height="1"/>
<rect x="796" y="423" width="1" height="1"/>
<rect x="797" y="422" width="1" height="1"/>
<rect x="798" y="420" width="1" height="2"/>
<rect x="799" y="419" width="1" height="1"/>
<rect x="800" y="418" width="1" height="1"/>
<rect x="801" y="417" width="1" height="1"/>
<rect x="802" y="417" width="1" height="1"/>
<rect x="803" y="416" width="1" height="1"/>
<rect x="804" y="416" width="1" height="1"/>
<rect x="805" y="416" width="1" height="1"/>
<rect x="806" y="415" width="1" height="1"/>
<rect x="807" y="415" width="1" height="1"/>
<rect x="808" y="414" width="1" height="1"/>
<rect x="809" y="414" width="1" height="1"/>
<rect x="810" y="414" width="1" height="1"/>
<rect x="811" y="414" width="1" height="1"/>
<rect x="812" y="414" width="1" height="1"/>
<rect x="813" y="414" width="1" height="1"/>
<rect x="814" y="414" width="1" height="1"/>
<rect x="815" y="414" width="1" height="1"/>
<rect x="816" y="415" width="1" height="1"/>
<rect x="817" y="416" width="1" height="1"/>
<rect x="818" y="416" width="1" height="1"/>
<rect x="819" y="417" width="1" height="1"/>
<rect x="820" y="418" width="1" height="1"/>
<rect x="821" y="418" width="1" height="1"/>
<rect x="822" y="418" width="1" height="1"/>
<rect x="823" y="418" width="1" height="1"/>
<rect x="824" y="418" width="1" height="1"/>
<rect x="825" y="418" width="1" height="1"/>
<rect x="826" y="418" width="1" height="1"/>
<rect x="827" y="417" width="1" height="1"/>
<rect x="828" y="417" width="1" height="1"/>
<rect x="829" y="416" width="1" height="1"/>
<rect x="830" y="416" width="1" height="1"/>
<rect x="831" y="416" width="1" height="1"/>
<rect x="832" y="416" width="1" height="1"/>
<rect x="833" y="416" width="1" height="1"/>
<rect x="834" y="416" width="1" height="1"/>
<rect x="835" y="416" width="1" height="1"/>
<rect x="836" y="416" width="1" height="1"/>
<rect x="837" y="417" width="1" height="1"/>
<rect x="838" y="417" width="1" height="1"/>
<rect x="839" y="418" width="1" height="1"/>
<rect x="840" y="418" width="1" height="1"/>
<rect x="841" y="419" width="1" height="1"/>
<rect x="842" y="420" width="1" height="1"/>
<rect x="843" y="421" width="1" height="1"/>
<rect x="844" y="422" width="1" height="1"/>
<rect x="845" y="423" width="1" height="1"/>
<rect x="846" y="424" width="1" height="1"/>
<rect x="847" y="425" width="1" height="2"/>
<rect x="848" y="427" width="1" height="1"/>
<rect x="849" y="428" width="1" height="1"/>
<rect x="850" y="428" width="1" height="1"/>
<rect x="851" y="429" width="1" height="1"/>
<rect x="852" y="429" width="1" height="1"/>
<rect x="853" y="429" width="1" height="1"/>
<rect x="854" y="430" width="1" height="1"/>
<rect x="855" y="430" width="1" height="1"/>
<rect x="856" y="430" width="1" height="1"/>
<rect x="857" y="430" width="1" height="1"/>
<rect x="858" y="431" width="1" height="1"/>
<rect x="859" y="431" width="1" height="1"/>
<rect x="860" y="431" width="1" height="1"/>
<rect x="861" y="432" width="1" height="1"/>
<rect x="862" y="433" width="1" height="1"/>
<rect x="863" y="433" width="1" height="1"/>
<rect x="864" y="434" width="1" height="2"/>
<rect x="865" y="436" width="1" height="2"/>
<rect x="866" y="438" width="1" height="3"/>
<rect x="867" y="441" width="1" height="2"/>
<rect x="868" y="443" width="1" height="2"/>
<rect x="869" y="445" width="1" height="2"/>
<rect x="870" y="447" width="1" height="2"/>
<rect x="871" y="449" width="1" height="2"/>
<rect x="872" y="451" width="1" height="2"/>
<rect x="873" y="453" width="1" height="2"/>
<rect x="874" y="455" width="1" height="2"/>
<rect x="875" y="456" width="1" height="1"/>
<rect x="876" y="457" width="1" height="1"/>
<rect x="877" y="457" width="1" height="1"/>
<rect x="878" y="457" width="1" height="1"/>
<rect x="879" y="456" width="1" height="1"/>
<rect x="880" y="456" width="1" height="1"/>
<rect x="881" y="456" width="1" height="1"/>
<rect x="882" y="455" width="1" height="1"/>
<rect x="883" y="454" width="1" height="1"/>
<rect x="884" y="453" width="1" height="1"/>
<rect x="885" y="452" width="1" height="1"/>
<rect x="886" y="450" width="1" height="2"/>
<rect x="887" y="448" width="1" height="2"/>
<rect x="888" y="446" width="1" height="2"/>
<rect x="889" y="444" width="1" height="2"/>
<rect x="890" y="442" width="1" height="2"/>
<rect x="891" y="440" width="1" height="2"/>
<rect x="892" y="438" width="1" height="2"/>
<rect x="893" y="436" width="1" height="2"/>
<rect x="894" y="435" width="1" height="1"/>
<rect x="895" y="435" width="1" height="1"/>
<rect x="896" y="434" width="1" height="1"/>
<rect x="897" y="433" width="1" height="1"/>
<rect x="898" y="433" width="1" height="1"/>
<rect x="899" y="432" width="1" height="1"/>
<rect x="900" y="432" width="1" height="1"/>
<rect x="901" y="432" width="1" height="1"/>
<rect x="902" y="432" width="1" height="1"/>
<rect x="903" y="432" width="1" height="1"/>
<rect x="904" y="432" width="1" height="1"/>
<rect x="905" y="432" width="1" height="1"/>
<rect x="906" y="432" width="1" height="1"/>
<rect x="907" y="433" width="1" height="1"/>
<rect x="908" y="433" width="1" height="1"/>
<rect x="909" y="434" width="1" height="1"/>
<rect x="910" y="434" width="1" height="1"/>
<rect x="911" y="435" width="1" height="2"/>
<rect x="912" y="437" width="1" height="1"/>
<rect x="913" y="438" width="1" height="2"/>
<rect x="914" y="440" width="1" height="1"/>
<rect x="915" y="441" width="1" height="1"/>
<rect x="916" y="441" width="1" height="1"/>
<rect x="917" y="442" width="1" height="1"/>
<rect x="918" y="443" width="1" height="1"/>
<rect x="919" y="443" width="1" height="1"/>
</g>
<g fill="#000">
<rect x="18" y="22" width="910" height="1"/>
<rect x="18" y="22" width="1" height="504"/>
<rect x="927" y="22" width="1" height="504"/>
<rect x="18" y="525" width="910" height="1"/>
<rect x="16" y="24" width="2" height="1"/><rect x="928" y="24" width="2" height="1"/>
<rect x="16" y="31" width="2" height="1"/><rect x="928" y="31" width="2" height="1"/>
<rect x="16" y="38" width="2" height="1"/><rect x="928" y="38" width="2" height="1"/>
<rect x="16" y="45" width="2" height="1"/><rect x="928" y="45" width="2" height="1"/>
<rect x="16" y="52" width="2" height="1"/><rect x="928" y="52" width="2" height="1"/>
<rect x="16" y="59" width="2" height="1"/><rect x="928" y="59" width="2" height="1"/>
<rect x="16" y="66" width="2" height="1"/><rect x="928" y="66" width="2" height="1"/>
<rect x="16" y="73" width="2" height="1"/><rect x="928" y="73" width="2" height="1"/>
<rect x="16" y="80" width="2" height="1"/><rect x="928" y="80" width="2" height="1"/>
<rect x="16" y="89" width="2" height="1"/><rect x="928" y="89" width="2" height="1"/>
<rect x="16" y="96" width="2" height="1"/><rect x="928" y="96" width="2" height="1"/>
<rect x="16" y="103" width="2" height="1"/><rect x="928" y="103" width="2" height="1"/>
<rect x="16" y="110" width="2" height="1"/><rect x="928" y="110" width="2" height="1"/>
<rect x="16" y="117" width="2" height="1"/><rect x="928" y="117" width="2" height="1"/>
<rect x="16" y="124" width="2" height="1"/><rect x="928" y="124" width="2" height="1"/>
<rect x="16" y="131" width="2" height="1"/><rect x="928" y="131" width="2" height="1"/>
<rect x="16" y="138" width="2" height="1"/><rect x="928" y="138" width="2" height="1"/>
<rect x="16" y="145" width="2" height="1"/><rect x="928" y="145" width="2" height="1"/>
<rect x="16" y="152" width="2" height="1"/><rect x="928" y="152" width="2" height="1"/>
<rect x="16" y="161" width="2" height="1"/><rect x="928" y="161" width="2" height="1"/>
<rect x="16" y="168" width="2" height="1"/><rect x="928" y="168" width="2" height="1"/>
<rect x="16" y="175" width="2" height="1"/><rect x="928" y="175" width="2" height="1"/>
<rect x="16" y="182" width="2" height="1"/><rect x="928" y="182" width="2" height="1"/>
<rect x="16" y="189" width="2" height="1"/><rect x="928" y="189" width="2" height="1"/>
<rect x="16" y="196" width="2" height="1"/><rect x="928" y="196" width="2" height="1"/>
<rect x="16" y="203" width="2" height="1"/><rect x="928" y="203" width="2" height="1"/>
<rect x="16" y="210" width="2" height="1"/><rect x="928" y="210" width="2" height="1"/>
<rect x="16" y="217" width="2" height="1"/><rect x="928" y="217" width="2" height="1"/>
<rect x="16" y="224" width="2" height="1"/><rect x="928" y="224" width="2" height="1"/>
<rect x="16" y="233" width="2" height="1"/><rect x="928" y="233" width="2" height="1"/>
<rect x="16" y="240" width="2" height="1"/><rect x="928" y="240" width="2" height="1"/>
<rect x="16" y="247" width="2" height="1"/><rect x="928" y="247" width="2" height="1"/>
<rect x="16" y="254" width="2" height="1"/><rect x="928" y="254" width="2" height="1"/>
<rect x="16" y="261" width="2" height="1"/><rect x="928" y="261" width="2" height="1"/>
<rect x="16" y="268" width="2" height="1"/><rect x="928" y="268" width="2" height="1"/>
<rect x="16" y="275" width="2" height="1"/><rect x="928" y="275" width="2" height="1"/>
<rect x="16" y="282" width="2" height="1"/><rect x="928" y="282" width="2" height="1"/>
<rect x="16" y="289" width="2" height="1"/><rect x="928" y="289" width="2" height="1"/>
<rect x="16" y="296" width="2" height="1"/><rect x="928" y="296" width="2" height="1"/>
<rect x="16" y="304" width="2" height="1"/><rect x="928" y="304" width="2" height="1"/>
<rect x="16" y="311" width="2" height="1"/><rect x="928" y="311" width="2" height="1"/>
<rect x="16" y="318" width="2" height="1"/><rect x="928" y="318" width="2" height="1"/>
<rect x="16" y="325" width="2" height="1"/><rect x="928" y="325" width="2" height="1"/>
<rect x="16" y="332" width="2" height="1"/><rect x="928" y="332" width="2" height="1"/>
<rect x="16" y="339" width="2" height="1"/><rect x="928" y="339" width="2" height="1"/>
<rect x="16" y="346" width="2" height="1"/><rect x="928" y="346" width="2" height="1"/>
<rect x="16" y="353" width="2" height="1"/><rect x="928" y="353" width="2" height="1"/>
<rect x="16" y="360" width="2" height="1"/><rect x="928" y="360" width="2" height="1"/>
<rect x="16" y="367" width="2" height="1"/><rect x="928" y="367" width="2" height="1"/>
<rect x="16" y="376" width="2" height="1"/><rect x="928" y="376" width="2" height="1"/>
<rect x="16" y="383" width="2" height="1"/><rect x="928" y="383" width="2" height="1"/>
<rect x="16" y="390" width="2" height="1"/><rect x="928" y="390" width="2" height="1"/>
<rect x="16" y="397" width="2" height="1"/><rect x="928" y="397" width="2" height="1"/>
<rect x="16" y="404" width="2" height="1"/><rect x="928" y="404" width="2" height="1"/>
<rect x="16" y="411" width="2" height="1"/><rect x="928" y="411" width="2" height="1"/>
<rect x="16" y="418" width="2" height="1"/><rect x="928" y="418" width="2" height="1"/>
<rect x="16" y="425" width="2" height="1"/><rect x="928" y="425" width="2" height="1"/>
<rect x="16" y="432" width="2" height="1"/><rect x="928" y="432" width="2" height="1"/>
<rect x="16" y="439" width="2" height="1"/><rect x="928" y="439" width="2" height="1"/>
<rect x="16" y="448" width="2" height="1"/><rect x="928" y="448" width="2" height="1"/>
<rect x="16" y="455" width="2" height="1"/><rect x="928" y="455" width="2" height="1"/>
<rect x="16" y="462" width="2" height="1"/><rect x="928" y="462" width="2" height="1"/>
<rect x="16" y="469" width="2" height="1"/><rect x="928" y="469" width="2" height="1"/>
<rect x="16" y="476" width="2" height="1"/><rect x="928" y="476" width="2" height="1"/>
<rect x="16" y="483" width="2" height="1"/><rect x="928" y="483" width="2" height="1"/>
<rect x="16" y="490" width="2" height="1"/><rect x="928" y="490" width="2" height="1"/>
<rect x="16" y="497" width="2" height="1"/><rect x="928" y="497" width="2" height="1"/>
<rect x="16" y="504" width="2" height="1"/><rect x="928" y="504" width="2" height="1"/>
<rect x="16" y="511" width="2" height="1"/><rect x="928" y="511" width="2" height="1"/>
<rect x="16" y="520" width="2" height="1"/><rect x="928" y="520" width="2" height="1"/>
<rect x="22" y="526" width="1" height="1"/>
<rect x="24" y="526" width="1" height="1"/>
<rect x="26" y="526" width="1" height="1"/>
<rect x="28" y="526" width="1" height="1"/>
<rect x="30" y="526" width="1" height="1"/>
<rect x="33" y="526" width="1" height="1"/>
<rect x="35" y="526" width="1" height="1"/>
<rect x="37" y="526" width="1" height="1"/>
<rect x="39" y="526" width="1" height="1"/>
<rect x="42" y="526" width="1" height="1"/>
<rect x="44" y="526" width="1" height="3"/>
<rect x="46" y="526" width="1" height="1"/>
<rect x="48" y="526" width="1" height="1"/>
<rect x="50" y="526" width="1" height="1"/>
<rect x="53" y="526" width="1" height="1"/>
<rect x="55" y="526" width="1" height="1"/>
<rect x="57" y="526" width="1" height="1"/>
<rect x="59" y="526" width="1" height="1"/>
<rect x="61" y="526" width="1" height="1"/>
<rect x="64" y="526" width="1" height="1"/>
<rect x="66" y="526" width="1" height="1"/>
<rect x="68" y="526" width="1" height="1"/>
<rect x="70" y="526" width="1" height="1"/>
<rect x="73" y="526" width="1" height="1"/>
<rect x="75" y="526" width="1" height="1"/>
<rect x="77" y="526" width="1" height="1"/>
<rect x="79" y="526" width="1" height="1"/>
<rect x="81" y="526" width="1" height="1"/>
<rect x="84" y="526" width="1" height="1"/>
<rect x="86" y="526" width="1" height="1"/>
<rect x="88" y="526" width="1" height="1"/>
<rect x="90" y="526" width="1" height="1"/>
<rect x="92" y="526" width="1" height="1"/>
<rect x="95" y="526" width="1" height="1"/>
<rect x="97" y="526" width="1" height="3"/>
<rect x="99" y="526" width="1" height="1"/>
<rect x="101" y="526" width="1" height="1"/>
<rect x="104" y="526" width="1" height="1"/>
<rect x="106" y="526" width="1" height="1"/>
<rect x="108" y="526" width="1" height="1"/>
<rect x="110" y="526" width="1" height="1"/>
<rect x="112" y="526" width="1" height="1"/>
<rect x="115" y="526" width="1" height="1"/>
<rect x="117" y="526" width="1" height="1"/>
<rect x="119" y="526" width="1" height="1"/>
<rect x="121" y="526" width="1" height="1"/>
<rect x="123" y="526" width="1" height="1"/>
<rect x="126" y="526" width="1" height="1"/>
<rect x="128" y="526" width="1" height="1"/>
<rect x="130" y="526" width="1" height="1"/>
<rect x="132" y="526" width="1" height="1"/>
<rect x="134" y="526" width="1" height="1"/>
<rect x="136" y="526" width="1" height="1"/>
<rect x="139" y="526" width="1" height="1"/>
<rect x="141" y="526" width="1" height="1"/>
<rect x="143" y="526" width="1" height="1"/>
<rect x="145" y="526" width="1" height="1"/>
<rect x="148" y="526" width="1" height="1"/>
<rect x="150" y="526" width="1" height="3"/>
<rect x="152" y="526" width="1" height="1"/>
<rect x="154" y="526" width="1" height="1"/>
<rect x="156" y="526" width="1" height="1"/>
<rect x="159" y="526" width="1" height="1"/>
<rect x="161" y="526" width="1" height="1"/>
<rect x="163" y="526" width="1" height="1"/>
<rect x="165" y="526" width="1" height="1"/>
<rect x="167" y="526" width="1" height="1"/>
<rect x="170" y="526" width="1" height="1"/>
<rect x="172" y="526" width="1" height="1"/>
<rect x="174" y="526" width="1" height="1"/>
<rect x="176" y="526" width="1" height="1"/>
<rect x="179" y="526" width="1" height="1"/>
<rect x="181" y="526" width="1" height="1"/>
<rect x="183" y="526" width="1" height="1"/>
<rect x="185" y="526" width="1" height="1"/>
<rect x="187" y="526" width="1" height="1"/>
<rect x="190" y="526" width="1" height="1"/>
<rect x="192" y="526" width="1" height="1"/>
<rect x="194" y="526" width="1" height="1"/>
<rect x="196" y="526" width="1" height="1"/>
<rect x="199" y="526" width="1" height="1"/>
<rect x="201" y="526" width="1" height="1"/>
<rect x="203" y="526" width="1" height="3"/>
<rect x="205" y="526" width="1" height="1"/>
<rect x="207" y="526" width="1" height="1"/>
<rect x="210" y="526" width="1" height="1"/>
<rect x="212" y="526" width="1" height="1"/>
<rect x="214" y="526" width="1" height="1"/>
<rect x="216" y="526" width="1" height="1"/>
<rect x="218" y="526" width="1" height="1"/>
<rect x="221" y="526" width="1" height="1"/>
<rect x="223" y="526" width="1" height="1"/>
<rect x="225" y="526" width="1" height="1"/>
<rect x="227" y="526" width="1" height="1"/>
<rect x="230" y="526" width="1" height="1"/>
<rect x="232" y="526" width="1" height="1"/>
<rect x="234" y="526" width="1" height="1"/>
<rect x="236" y="526" width="1" height="1"/>
<rect x="238" y="526" width="1" height="1"/>
<rect x="241" y="526" width="1" height="1"/>
<rect x="243" y="526" width="1" height="1"/>
<rect x="245" y="526" width="1" height="1"/>
<rect x="247" y="526" width="1" height="1"/>
<rect x="249" y="526" width="1" height="1"/>
<rect x="252" y="526" width="1" height="1"/>
<rect x="254" y="526" width="1" height="1"/>
<rect x="256" y="526" width="1" height="3"/>
<rect x="258" y="526" width="1" height="1"/>
<rect x="261" y="526" width="1" height="1"/>
<rect x="263" y="526" width="1" height="1"/>
<rect x="265" y="526" width="1" height="1"/>
<rect x="267" y="526" width="1" height="1"/>
<rect x="269" y="526" width="1" height="1"/>
<rect x="272" y="526" width="1" height="1"/>
<rect x="274" y="526" width="1" height="1"/>
<rect x="276" y="526" width="1" height="1"/>
<rect x="278" y="526" width="1" height="1"/>
<rect x="281" y="526" width="1" height="1"/>
<rect x="283" y="526" width="1" height="1"/>
<rect x="285" y="526" width="1" height="1"/>
<rect x="287" y="526" width="1" height="1"/>
<rect x="289" y="526" width="1" height="1"/>
<rect x="292" y="526" width="1" height="1"/>
<rect x="294" y="526" width="1" height="1"/>
<rect x="296" y="526" width="1" height="1"/>
<rect x="298" y="526" width="1" height="1"/>
<rect x="300" y="526" width="1" height="1"/>
<rect x="303" y="526" width="1" height="1"/>
<rect x="305" y="526" width="1" height="1"/>
<rect x="307" y="526" width="1" height="1"/>
<rect x="309" y="526" width="1" height="3"/>
<rect x="312" y="526" width="1" height="1"/>
<rect x="314" y="526" width="1" height="1"/>
<rect x="316" y="526" width="1" height="1"/>
<rect x="318" y="526" width="1" height="1"/>
<rect x="320" y="526" width="1" height="1"/>
<rect x="323" y="526" width="1" height="1"/>
<rect x="325" y="526" width="1" height="1"/>
<rect x="327" y="526" width="1" height="1"/>
<rect x="329" y="526" width="1" height="1"/>
<rect x="332" y="526" width="1" height="1"/>
<rect x="334" y="526" width="1" height="1"/>
<rect x="336" y="526" width="1" height="1"/>
<rect x="338" y="526" width="1" height="1"/>
<rect x="340" y="526" width="1" height="1"/>
<rect x="343" y="526" width="1" height="1"/>
<rect x="345" y="526" width="1" height="1"/>
<rect x="347" y="526" width="1" height="1"/>
<rect x="349" y="526" width="1" height="1"/>
<rect x="351" y="526" width="1" height="1"/>
<rect x="354" y="526" width="1" height="1"/>
<rect x="356" y="526" width="1" height="1"/>
<rect x="358" y="526" width="1" height="1"/>
<rect x="360" y="526" width="1" height="1"/>
<rect x="363" y="526" width="1" height="3"/>
<rect x="365" y="526" width="1" height="1"/>
<rect x="367" y="526" width="1" height="1"/>
<rect x="369" y="526" width="1" height="1"/>
<rect x="371" y="526" width="1" height="1"/>
<rect x="374" y="526" width="1" height="1"/>
<rect x="376" y="526" width="1" height="1"/>
<rect x="378" y="526" width="1" height="1"/>
<rect x="380" y="526" width="1" height="1"/>
<rect x="383" y="526" width="1" height="1"/>
<rect x="385" y="526" width="1" height="1"/>
<rect x="387" y="526" width="1" height="1"/>
<rect x="389" y="526" width="1" height="1"/>
<rect x="391" y="526" width="1" height="1"/>
<rect x="394" y="526" width="1" height="1"/>
<rect x="396" y="526" width="1" height="1"/>
<rect x="398" y="526" width="1" height="1"/>
<rect x="400" y="526" width="1" height="1"/>
<rect x="402" y="526" width="1" height="1"/>
<rect x="405" y="526" width="1" height="1"/>
<rect x="407" y="526" width="1" height="1"/>
<rect x="409" y="526" width="1" height="1"/>
<rect x="411" y="526" width="1" height="1"/>
<rect x="414" y="526" width="1" height="1"/>
<rect x="416" y="526" width="1" height="3"/>
<rect x="418" y="526" width="1" height="1"/>
<rect x="420" y="526" width="1" height="1"/>
<rect x="422" y="526" width="1" height="1"/>
<rect x="425" y="526" width="1" height="1"/>
<rect x="427" y="526" width="1" height="1"/>
<rect x="429" y="526" width="1" height="1"/>
<rect x="431" y="526" width="1" height="1"/>
<rect x="433" y="526" width="1" height="1"/>
<rect x="436" y="526" width="1" height="1"/>
<rect x="438" y="526" width="1" height="1"/>
<rect x="440" y="526" width="1" height="1"/>
<rect x="442" y="526" width="1" height="1"/>
<rect x="445" y="526" width="1" height="1"/>
<rect x="447" y="526" width="1" height="1"/>
<rect x="449" y="526" width="1" height="1"/>
<rect x="451" y="526" width="1" height="1"/>
<rect x="453" y="526" width="1" height="1"/>
<rect x="456" y="526" width="1" height="1"/>
<rect x="458" y="526" width="1" height="1"/>
<rect x="460" y="526" width="1" height="1"/>
<rect x="462" y="526" width="1" height="1"/>
<rect x="465" y="526" width="1" height="1"/>
<rect x="467" y="526" width="1" height="1"/>
<rect x="469" y="526" width="1" height="3"/>
<rect x="471" y="526" width="1" height="1"/>
<rect x="473" y="526" width="1" height="1"/>
<rect x="476" y="526" width="1" height="1"/>
<rect x="478" y="526" width="1" height="1"/>
<rect x="480" y="526" width="1" height="1"/>
<rect x="482" y="526" width="1" height="1"/>
<rect x="484" y="526" width="1" height="1"/>
<rect x="487" y="526" width="1" height="1"/>
<rect x="489" y="526" width="1" height="1"/>
<rect x="491" y="526" width="1" height="1"/>
<rect x="493" y="526" width="1" height="1"/>
<rect x="496" y="526" width="1" height="1"/>
<rect x="498" y="526" width="1" height="1"/>
<rect x="500" y="526" width="1" height="1"/>
<rect x="502" y="526" width="1" height="1"/>
<rect x="504" y="526" width="1" height="1"/>
<rect x="507" y="526" width="1" height="1"/>
<rect x="509" y="526" width="1" height="1"/>
<rect x="511" y="526" width="1" height="1"/>
<rect x="513" y="526" width="1" height="1"/>
<rect x="516" y="526" width="1" height="1"/>
<rect x="518" y="526" width="1" height="1"/>
<rect x="520" y="526" width="1" height="1"/>
<rect x="522" y="526" width="1" height="3"/>
<rect x="524" y="526" width="1" height="1"/>
<rect x="527" y="526" width="1" height="1"/>
<rect x="529" y="526" width="1" height="1"/>
<rect x="531" y="526" width="1" height="1"/>
<rect x="533" y="526" width="1" height="1"/>
<rect x="535" y="526" width="1" height="1"/>
<rect x="538" y="526" width="1" height="1"/>
<rect x="540" y="526" width="1" height="1"/>
<rect x="542" y="526" width="1" height="1"/>
<rect x="544" y="526" width="1" height="1"/>
<rect x="547" y="526" width="1" height="1"/>
<rect x="549" y="526" width="1" height="1"/>
<rect x="551" y="526" width="1" height="1"/>
<rect x="553" y="526" width="1" height="1"/>
<rect x="555" y="526" width="1" height="1"/>
<rect x="558" y="526" width="1" height="1"/>
<rect x="560" y="526" width="1" height="1"/>
<rect x="562" y="526" width="1" height="1"/>
<rect x="564" y="526" width="1" height="1"/>
<rect x="567" y="526" width="1" height="1"/>
<rect x="569" y="526" width="1" height="1"/>
<rect x="571" y="526" width="1" height="1"/>
<rect x="573" y="526" width="1" height="1"/>
<rect x="575" y="526" width="1" height="3"/>
<rect x="578" y="526" width="1" height="1"/>
<rect x="580" y="526" width="1" height="1"/>
<rect x="582" y="526" width="1" height="1"/>
<rect x="584" y="526" width="1" height="1"/>
<rect x="586" y="526" width="1" height="1"/>
<rect x="589" y="526" width="1" height="1"/>
<rect x="591" y="526" width="1" height="1"/>
<rect x="593" y="526" width="1" height="1"/>
<rect x="595" y="526" width="1" height="1"/>
<rect x="598" y="526" width="1" height="1"/>
<rect x="600" y="526" width="1" height="1"/>
<rect x="602" y="526" width="1" height="1"/>
<rect x="604" y="526" width="1" height="1"/>
<rect x="606" y="526" width="1" height="1"/>
<rect x="609" y="526" width="1" height="1"/>
<rect x="611" y="526" width="1" height="1"/>
<rect x="613" y="526" width="1" height="1"/>
<rect x="615" y="526" width="1" height="1"/>
<rect x="617" y="526" width="1" height="1"/>
<rect x="620" y="526" width="1" height="1"/>
<rect x="622" y="526" width="1" height="1"/>
<rect x="624" y="526" width="1" height="1"/>
<rect x="626" y="526" width="1" height="1"/>
<rect x="629" y="526" width="1" height="3"/>
<rect x="631" y="526" width="1" height="1"/>
<rect x="633" y="526" width="1" height="1"/>
<rect x="635" y="526" width="1" height="1"/>
<rect x="637" y="526" width="1" height="1"/>
<rect x="640" y="526" width="1" height="1"/>
<rect x="642" y="526" width="1" height="1"/>
<rect x="644" y="526" width="1" height="1"/>
<rect x="646" y="526" width="1" height="1"/>
<rect x="649" y="526" width="1" height="1"/>
<rect x="651" y="526" width="1" height="1"/>
<rect x="653" y="526" width="1" height="1"/>
<rect x="655" y="526" width="1" height="1"/>
<rect x="657" y="526" width="1" height="1"/>
<rect x="660" y="526" width="1" height="1"/>
<rect x="662" y="526" width="1" height="1"/>
<rect x="664" y="526" width="1" height="1"/>
<rect x="666" y="526" width="1" height="1"/>
<rect x="668" y="526" width="1" height="1"/>
<rect x="671" y="526" width="1" height="1"/>
<rect x="673" y="526" width="1" height="1"/>
<rect x="675" y="526" width="1" height="1"/>
<rect x="677" y="526" width="1" height="1"/>
<rect x="680" y="526" width="1" height="1"/>
<rect x="682" y="526" width="1" height="3"/>
<rect x="684" y="526" width="1" height="1"/>
<rect x="686" y="526" width="1" height="1"/>
<rect x="688" y="526" width="1" height="1"/>
<rect x="691" y="526" width="1" height="1"/>
<rect x="693" y="526" width="1" height="1"/>
<rect x="695" y="526" width="1" height="1"/>
<rect x="697" y="526" width="1" height="1"/>
<rect x="700" y="526" width="1" height="1"/>
<rect x="702" y="526" width="1" height="1"/>
<rect x="704" y="526" width="1" height="1"/>
<rect x="706" y="526" width="1" height="1"/>
<rect x="708" y="526" width="1" height="1"/>
<rect x="711" y="526" width="1" height="1"/>
<rect x="713" y="526" width="1" height="1"/>
<rect x="715" y="526" width="1" height="1"/>
<rect x="717" y="526" width="1" height="1"/>
<rect x="719" y="526" width="1" height="1"/>
<rect x="722" y="526" width="1" height="1"/>
<rect x="724" y="526" width="1" height="1"/>
<rect x="726" y="526" width="1" height="1"/>
<rect x="728" y="526" width="1" height="1"/>
<rect x="731" y="526" width="1" height="1"/>
<rect x="733" y="526" width="1" height="1"/>
<rect x="735" y="526" width="1" height="3"/>
<rect x="737" y="526" width="1" height="1"/>
<rect x="739" y="526" width="1" height="1"/>
<rect x="742" y="526" width="1" height="1"/>
<rect x="744" y="526" width="1" height="1"/>
<rect x="746" y="526" width="1" height="1"/>
<rect x="748" y="526" width="1" height="1"/>
<rect x="751" y="526" width="1" height="1"/>
<rect x="753" y="526" width="1" height="1"/>
<rect x="755" y="526" width="1" height="1"/>
<rect x="757" y="526" width="1" height="1"/>
<rect x="759" y="526" width="1" height="1"/>
<rect x="762" y="526" width="1" height="1"/>
<rect x="764" y="526" width="1" height="1"/>
<rect x="766" y="526" width="1" height="1"/>
<rect x="768" y="526" width="1" height="1"/>
<rect x="770" y="526" width="1" height="1"/>
<rect x="773" y="526" width="1" height="1"/>
<rect x="775" y="526" width="1" height="1"/>
<rect x="777" y="526" width="1" height="1"/>
<rect x="779" y="526" width="1" height="1"/>
<rect x="782" y="526" width="1" height="1"/>
<rect x="784" y="526" width="1" height="1"/>
<rect x="786" y="526" width="1" height="1"/>
<rect x="788" y="526" width="1" height="3"/>
<rect x="790" y="526" width="1" height="1"/>
<rect x="793" y="526" width="1" height="1"/>
<rect x="795" y="526" width="1" height="1"/>
<rect x="797" y="526" width="1" height="1"/>
<rect x="799" y="526" width="1" height="1"/>
<rect x="802" y="526" width="1" height="1"/>
<rect x="804" y="526" width="1" height="1"/>
<rect x="806" y="526" width="1" height="1"/>
<rect x="808" y="526" width="1" height="1"/>
<rect x="810" y="526" width="1" height="1"/>
<rect x="813" y="526" width="1" height="1"/>
<rect x="815" y="526" width="1" height="1"/>
<rect x="817" y="526" width="1" height="1"/>
<rect x="819" y="526" width="1" height="1"/>
<rect x="821" y="526" width="1" height="1"/>
<rect x="824" y="526" width="1" height="1"/>
<rect x="826" y="526" width="1" height="1"/>
<rect x="828" y="526" width="1" height="1"/>
<rect x="830" y="526" width="1" height="1"/>
<rect x="833" y="526" width="1" height="1"/>
<rect x="835" y="526" width="1" height="1"/>
<rect x="837" y="526" width="1" height="1"/>
<rect x="839" y="526" width="1" height="1"/>
<rect x="841" y="526" width="1" height="3"/>
<rect x="844" y="526" width="1" height="1"/>
<rect x="846" y="526" width="1" height="1"/>
<rect x="848" y="526" width="1" height="1"/>
<rect x="850" y="526" width="1" height="1"/>
<rect x="852" y="526" width="1" height="1"/>
<rect x="855" y="526" width="1" height="1"/>
<rect x="857" y="526" width="1" height="1"/>
<rect x="859" y="526" width="1" height="1"/>
<rect x="861" y="526" width="1" height="1"/>
<rect x="864" y="526" width="1" height="1"/>
<rect x="866" y="526" width="1" height="1"/>
<rect x="868" y="526" width="1" height="1"/>
<rect x="870" y="526" width="1" height="1"/>
<rect x="872" y="526" width="1" height="1"/>
<rect x="875" y="526" width="1" height="1"/>
<rect x="877" y="526" width="1" height="1"/>
<rect x="879" y="526" width="1" height="1"/>
<rect x="881" y="526" width="1" height="1"/>
<rect x="884" y="526" width="1" height="1"/>
<rect x="886" y="526" width="1" height="1"/>
<rect x="888" y="526" width="1" height="1"/>
<rect x="890" y="526" width="1" height="1"/>
<rect x="892" y="526" width="1" height="1"/>
<rect x="895" y="526" width="1" height="3"/>
<rect x="897" y="526" width="1" height="1"/>
<rect x="899" y="526" width="1" height="1"/>
<rect x="901" y="526" width="1" height="1"/>
<rect x="903" y="526" width="1" height="1"/>
<rect x="906" y="526" width="1" height="1"/>
<rect x="908" y="526" width="1" height="1"/>
<rect x="910" y="526" width="1" height="1"/>
<rect x="912" y="526" width="1" height="1"/>
<rect x="915" y="526" width="1" height="1"/>
<rect x="917" y="526" width="1" height="1"/>
<rect x="919" y="526" width="1" height="1"/>
</g>
</svg>
<div class="t" id="t1" style="left:18.5px;letter-spacing:-0.32px">US 30yr Bond Yield (USGG30YR) <span style="letter-spacing:0.02px">4.2341 </span><span style="color:#cc0000;letter-spacing:-0.27px">-0.08</span></div>
<div class="t" id="t2" style="left:675.5px;letter-spacing:-0.25px">www.fullermoney.com</div>
<div class="t" id="t3" style="left:845px;letter-spacing:-0.08px">6 Dec 2010</div>
<div class="lg" id="l1" style="top:28px;color:#0000ff">Monthly</div>
<div class="lg" id="l2" style="top:45px;color:#a82418">MA 200</div>
<div class="yl" style="top:82px">14</div><div class="yl" style="top:154px">12</div><div class="yl" style="top:226px">10</div><div class="yl" style="top:297px">8</div><div class="yl" style="top:369px">6</div><div class="yl" style="top:441px">4</div><div class="yl" style="top:513px">2</div><div class="xl" style="left:25.5px">1978</div><div class="xl" style="left:78.5px">1980</div><div class="xl" style="left:131.5px">1982</div><div class="xl" style="left:184.5px">1984</div><div class="xl" style="left:237.5px">1986</div><div class="xl" style="left:291.5px">1988</div><div class="xl" style="left:344.5px">1990</div><div class="xl" style="left:397.5px">1992</div><div class="xl" style="left:450.5px">1994</div><div class="xl" style="left:503.5px">1996</div><div class="xl" style="left:556.5px">1998</div><div class="xl" style="left:610.5px">2000</div><div class="xl" style="left:663.5px">2002</div><div class="xl" style="left:716.5px">2004</div><div class="xl" style="left:769.5px">2006</div><div class="xl" style="left:822.5px">2008</div><div class="xl" style="left:875.5px">2010</div>
<div class="cp" id="cp">&copy; 2010 Stockcube Research Ltd</div>
</div>
</body></html>
